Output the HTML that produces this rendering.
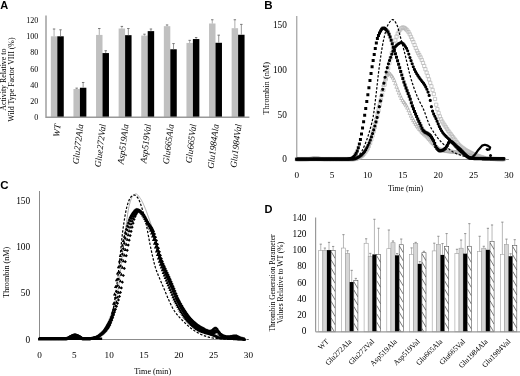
<!DOCTYPE html>
<html><head><meta charset="utf-8"><title>Figure</title>
<style>html,body{margin:0;padding:0;background:#fff;width:520px;height:376px;overflow:hidden}svg{display:block;filter:grayscale(1)}</style>
</head><body><svg width="520" height="376" viewBox="0 0 520 376"><defs><clipPath id="h0"><rect x="331.08" y="250.5" width="4.13" height="81.3"/></clipPath><clipPath id="h1"><rect x="353.78" y="280.58" width="4.13" height="51.22"/></clipPath><clipPath id="h2"><rect x="376.48" y="254.4" width="4.13" height="77.4"/></clipPath><clipPath id="h3"><rect x="399.18" y="244.73" width="4.13" height="87.07"/></clipPath><clipPath id="h4"><rect x="421.88" y="252.7" width="4.13" height="79.1"/></clipPath><clipPath id="h5"><rect x="444.58" y="246.6" width="4.13" height="85.2"/></clipPath><clipPath id="h6"><rect x="467.28" y="246.27" width="4.13" height="85.53"/></clipPath><clipPath id="h7"><rect x="489.98" y="241.56" width="4.13" height="90.24"/></clipPath><clipPath id="h8"><rect x="512.68" y="245.46" width="4.13" height="86.34"/></clipPath></defs><text x="0.2" y="8.6" font-size="11" font-family="'Liberation Sans', sans-serif" text-anchor="start" fill="#000" font-weight="bold">A</text>
<text x="264.3" y="8.7" font-size="11.5" font-family="'Liberation Sans', sans-serif" text-anchor="start" fill="#000" font-weight="bold">B</text>
<text x="0.3" y="189.2" font-size="11.5" font-family="'Liberation Sans', sans-serif" text-anchor="start" fill="#000" font-weight="bold">C</text>
<text x="264.6" y="213.3" font-size="11" font-family="'Liberation Sans', sans-serif" text-anchor="start" fill="#000" font-weight="bold">D</text>
<rect x="50.84" y="36.3" width="6.46" height="81" fill="#c0c0c0" stroke="none" stroke-width="0"/>
<rect x="57.3" y="36.3" width="6.46" height="81" fill="#000" stroke="none" stroke-width="0"/>
<line x1="54.07" y1="36.3" x2="54.07" y2="29.01" stroke="#9a9a9a" stroke-width="0.8"/>
<line x1="52.87" y1="29.01" x2="55.27" y2="29.01" stroke="#777" stroke-width="1.0"/>
<line x1="60.53" y1="36.3" x2="60.53" y2="29.82" stroke="#7a7a7a" stroke-width="0.8"/>
<line x1="59.33" y1="29.82" x2="61.73" y2="29.82" stroke="#777" stroke-width="1.0"/>
<text x="60.7" y="124.5" font-size="9.2" font-family="'Liberation Serif', serif" text-anchor="end" fill="#000" font-style="italic" transform="rotate(-83 60.7 124.5)">WT</text>
<rect x="73.44" y="89.03" width="6.46" height="28.27" fill="#c0c0c0" stroke="none" stroke-width="0"/>
<rect x="79.9" y="87.73" width="6.46" height="29.56" fill="#000" stroke="none" stroke-width="0"/>
<line x1="76.67" y1="89.03" x2="76.67" y2="88.14" stroke="#9a9a9a" stroke-width="0.8"/>
<line x1="75.47" y1="88.14" x2="77.87" y2="88.14" stroke="#777" stroke-width="1.0"/>
<line x1="83.13" y1="87.73" x2="83.13" y2="82.47" stroke="#7a7a7a" stroke-width="0.8"/>
<line x1="81.93" y1="82.47" x2="84.33" y2="82.47" stroke="#777" stroke-width="1.0"/>
<text x="83.3" y="124.5" font-size="9.2" font-family="'Liberation Serif', serif" text-anchor="end" fill="#000" font-style="italic" transform="rotate(-83 83.3 124.5)">Glu272Ala</text>
<rect x="96.04" y="34.92" width="6.46" height="82.38" fill="#c0c0c0" stroke="none" stroke-width="0"/>
<rect x="102.5" y="53.07" width="6.46" height="64.23" fill="#000" stroke="none" stroke-width="0"/>
<line x1="99.27" y1="34.92" x2="99.27" y2="28.52" stroke="#9a9a9a" stroke-width="0.8"/>
<line x1="98.07" y1="28.52" x2="100.47" y2="28.52" stroke="#777" stroke-width="1.0"/>
<line x1="105.73" y1="53.07" x2="105.73" y2="50.72" stroke="#7a7a7a" stroke-width="0.8"/>
<line x1="104.53" y1="50.72" x2="106.93" y2="50.72" stroke="#777" stroke-width="1.0"/>
<text x="105.9" y="124.5" font-size="9.2" font-family="'Liberation Serif', serif" text-anchor="end" fill="#000" font-style="italic" transform="rotate(-83 105.9 124.5)">Glue272Val</text>
<rect x="118.64" y="28.52" width="6.46" height="88.78" fill="#c0c0c0" stroke="none" stroke-width="0"/>
<rect x="125.1" y="35.17" width="6.46" height="82.13" fill="#000" stroke="none" stroke-width="0"/>
<line x1="121.87" y1="28.52" x2="121.87" y2="26.42" stroke="#9a9a9a" stroke-width="0.8"/>
<line x1="120.67" y1="26.42" x2="123.07" y2="26.42" stroke="#777" stroke-width="1.0"/>
<line x1="128.33" y1="35.17" x2="128.33" y2="28.52" stroke="#7a7a7a" stroke-width="0.8"/>
<line x1="127.13" y1="28.52" x2="129.53" y2="28.52" stroke="#777" stroke-width="1.0"/>
<text x="128.5" y="124.5" font-size="9.2" font-family="'Liberation Serif', serif" text-anchor="end" fill="#000" font-style="italic" transform="rotate(-83 128.5 124.5)">Asp519Ala</text>
<rect x="141.24" y="35.57" width="6.46" height="81.73" fill="#c0c0c0" stroke="none" stroke-width="0"/>
<rect x="147.7" y="31.12" width="6.46" height="86.18" fill="#000" stroke="none" stroke-width="0"/>
<line x1="144.47" y1="35.57" x2="144.47" y2="34.19" stroke="#9a9a9a" stroke-width="0.8"/>
<line x1="143.27" y1="34.19" x2="145.67" y2="34.19" stroke="#777" stroke-width="1.0"/>
<line x1="150.93" y1="31.12" x2="150.93" y2="29.01" stroke="#7a7a7a" stroke-width="0.8"/>
<line x1="149.73" y1="29.01" x2="152.13" y2="29.01" stroke="#777" stroke-width="1.0"/>
<text x="151.1" y="124.5" font-size="9.2" font-family="'Liberation Serif', serif" text-anchor="end" fill="#000" font-style="italic" transform="rotate(-83 151.1 124.5)">Asp519Val</text>
<rect x="163.84" y="26.17" width="6.46" height="91.12" fill="#c0c0c0" stroke="none" stroke-width="0"/>
<rect x="170.3" y="49.26" width="6.46" height="68.04" fill="#000" stroke="none" stroke-width="0"/>
<line x1="167.07" y1="26.17" x2="167.07" y2="24.96" stroke="#9a9a9a" stroke-width="0.8"/>
<line x1="165.87" y1="24.96" x2="168.27" y2="24.96" stroke="#777" stroke-width="1.0"/>
<line x1="173.53" y1="49.26" x2="173.53" y2="43.59" stroke="#7a7a7a" stroke-width="0.8"/>
<line x1="172.33" y1="43.59" x2="174.73" y2="43.59" stroke="#777" stroke-width="1.0"/>
<text x="173.7" y="124.5" font-size="9.2" font-family="'Liberation Serif', serif" text-anchor="end" fill="#000" font-style="italic" transform="rotate(-83 173.7 124.5)">Glu665Ala</text>
<rect x="186.44" y="42.94" width="6.46" height="74.36" fill="#c0c0c0" stroke="none" stroke-width="0"/>
<rect x="192.9" y="39.05" width="6.46" height="78.25" fill="#000" stroke="none" stroke-width="0"/>
<line x1="189.67" y1="42.94" x2="189.67" y2="40.35" stroke="#9a9a9a" stroke-width="0.8"/>
<line x1="188.47" y1="40.35" x2="190.87" y2="40.35" stroke="#777" stroke-width="1.0"/>
<line x1="196.13" y1="39.05" x2="196.13" y2="37.51" stroke="#7a7a7a" stroke-width="0.8"/>
<line x1="194.93" y1="37.51" x2="197.33" y2="37.51" stroke="#777" stroke-width="1.0"/>
<text x="196.3" y="124.5" font-size="9.2" font-family="'Liberation Serif', serif" text-anchor="end" fill="#000" font-style="italic" transform="rotate(-83 196.3 124.5)">Glu665Val</text>
<rect x="209.04" y="23.5" width="6.46" height="93.8" fill="#c0c0c0" stroke="none" stroke-width="0"/>
<rect x="215.5" y="42.78" width="6.46" height="74.52" fill="#000" stroke="none" stroke-width="0"/>
<line x1="212.27" y1="23.5" x2="212.27" y2="19.78" stroke="#9a9a9a" stroke-width="0.8"/>
<line x1="211.07" y1="19.78" x2="213.47" y2="19.78" stroke="#777" stroke-width="1.0"/>
<line x1="218.73" y1="42.78" x2="218.73" y2="35.17" stroke="#7a7a7a" stroke-width="0.8"/>
<line x1="217.53" y1="35.17" x2="219.93" y2="35.17" stroke="#777" stroke-width="1.0"/>
<text x="218.9" y="124.5" font-size="9.2" font-family="'Liberation Serif', serif" text-anchor="end" fill="#000" font-style="italic" transform="rotate(-83 218.9 124.5)">Glu1984Ala</text>
<rect x="231.64" y="28.2" width="6.46" height="89.1" fill="#c0c0c0" stroke="none" stroke-width="0"/>
<rect x="238.1" y="34.76" width="6.46" height="82.54" fill="#000" stroke="none" stroke-width="0"/>
<line x1="234.87" y1="28.2" x2="234.87" y2="19.78" stroke="#9a9a9a" stroke-width="0.8"/>
<line x1="233.67" y1="19.78" x2="236.07" y2="19.78" stroke="#777" stroke-width="1.0"/>
<line x1="241.33" y1="34.76" x2="241.33" y2="24.39" stroke="#7a7a7a" stroke-width="0.8"/>
<line x1="240.13" y1="24.39" x2="242.53" y2="24.39" stroke="#777" stroke-width="1.0"/>
<text x="241.5" y="124.5" font-size="9.2" font-family="'Liberation Serif', serif" text-anchor="end" fill="#000" font-style="italic" transform="rotate(-83 241.5 124.5)">Glu1984Val</text>
<line x1="46" y1="15.5" x2="46" y2="117.9" stroke="#999" stroke-width="1.4"/>
<line x1="46" y1="117.3" x2="249.4" y2="117.3" stroke="#999" stroke-width="1.4"/>
<text x="38.2" y="120.1" font-size="8" font-family="'Liberation Serif', serif" text-anchor="end" fill="#000">0</text>
<text x="38.2" y="103.9" font-size="8" font-family="'Liberation Serif', serif" text-anchor="end" fill="#000">20</text>
<text x="38.2" y="87.7" font-size="8" font-family="'Liberation Serif', serif" text-anchor="end" fill="#000">40</text>
<text x="38.2" y="71.5" font-size="8" font-family="'Liberation Serif', serif" text-anchor="end" fill="#000">60</text>
<text x="38.2" y="55.3" font-size="8" font-family="'Liberation Serif', serif" text-anchor="end" fill="#000">80</text>
<text x="38.2" y="39.1" font-size="8" font-family="'Liberation Serif', serif" text-anchor="end" fill="#000">100</text>
<text x="38.2" y="22.9" font-size="8" font-family="'Liberation Serif', serif" text-anchor="end" fill="#000">120</text>
<text x="5.8" y="79.7" font-size="7.9" font-family="'Liberation Serif', serif" text-anchor="middle" fill="#000" transform="rotate(-90 5.8 79.7)">Activity Relative to</text>
<text x="14.5" y="79.6" font-size="7.9" font-family="'Liberation Serif', serif" text-anchor="middle" fill="#000" transform="rotate(-90 14.5 79.6)">Wild Type Factor VIII (%)</text>
<line x1="296.8" y1="16" x2="296.8" y2="159.5" stroke="#8c8c8c" stroke-width="1"/>
<line x1="296.8" y1="159.5" x2="508.9" y2="159.5" stroke="#8c8c8c" stroke-width="1"/>
<text x="286.9" y="162.1" font-size="9.3" font-family="'Liberation Serif', serif" text-anchor="end" fill="#000">0</text>
<text x="286.9" y="117.5" font-size="9.3" font-family="'Liberation Serif', serif" text-anchor="end" fill="#000">50</text>
<text x="286.9" y="72.9" font-size="9.3" font-family="'Liberation Serif', serif" text-anchor="end" fill="#000">100</text>
<text x="286.9" y="28.3" font-size="9.3" font-family="'Liberation Serif', serif" text-anchor="end" fill="#000">150</text>
<text x="296.8" y="177.6" font-size="9.2" font-family="'Liberation Serif', serif" text-anchor="middle" fill="#000">0</text>
<text x="332.15" y="177.6" font-size="9.2" font-family="'Liberation Serif', serif" text-anchor="middle" fill="#000">5</text>
<text x="367.5" y="177.6" font-size="9.2" font-family="'Liberation Serif', serif" text-anchor="middle" fill="#000">10</text>
<text x="402.85" y="177.6" font-size="9.2" font-family="'Liberation Serif', serif" text-anchor="middle" fill="#000">15</text>
<text x="438.2" y="177.6" font-size="9.2" font-family="'Liberation Serif', serif" text-anchor="middle" fill="#000">20</text>
<text x="473.55" y="177.6" font-size="9.2" font-family="'Liberation Serif', serif" text-anchor="middle" fill="#000">25</text>
<text x="508.9" y="177.6" font-size="9.2" font-family="'Liberation Serif', serif" text-anchor="middle" fill="#000">30</text>
<text x="405.5" y="190.7" font-size="7.7" font-family="'Liberation Serif', serif" text-anchor="middle" fill="#000">Time (min)</text>
<text x="269.3" y="88.3" font-size="8.4" font-family="'Liberation Serif', serif" text-anchor="middle" fill="#000" transform="rotate(-90 269.3 88.3)">Thrombin (nM)</text>
<path d="M295.2 157.45h3.2v3.2h-3.2zM296.4 157.45h3.2v3.2h-3.2zM297.6 157.45h3.2v3.2h-3.2zM298.81 157.45h3.2v3.2h-3.2zM300.01 157.45h3.2v3.2h-3.2zM301.21 157.45h3.2v3.2h-3.2zM302.41 157.45h3.2v3.2h-3.2zM303.61 157.45h3.2v3.2h-3.2zM304.82 157.45h3.2v3.2h-3.2zM306.02 157.45h3.2v3.2h-3.2zM307.22 157.45h3.2v3.2h-3.2zM308.42 157.45h3.2v3.2h-3.2zM309.62 157.45h3.2v3.2h-3.2zM310.82 157.45h3.2v3.2h-3.2zM312.03 157.45h3.2v3.2h-3.2zM313.23 157.45h3.2v3.2h-3.2zM314.43 157.45h3.2v3.2h-3.2zM315.63 157.45h3.2v3.2h-3.2zM316.83 157.45h3.2v3.2h-3.2zM318.04 157.45h3.2v3.2h-3.2zM319.24 157.45h3.2v3.2h-3.2zM320.44 157.45h3.2v3.2h-3.2zM321.64 157.45h3.2v3.2h-3.2zM322.84 157.45h3.2v3.2h-3.2zM324.05 157.45h3.2v3.2h-3.2zM325.25 157.45h3.2v3.2h-3.2zM326.45 157.45h3.2v3.2h-3.2zM327.65 157.45h3.2v3.2h-3.2zM328.85 157.45h3.2v3.2h-3.2zM330.06 157.45h3.2v3.2h-3.2zM331.26 157.45h3.2v3.2h-3.2zM332.46 157.45h3.2v3.2h-3.2zM333.66 157.45h3.2v3.2h-3.2zM334.86 157.45h3.2v3.2h-3.2zM336.06 157.45h3.2v3.2h-3.2zM337.27 157.45h3.2v3.2h-3.2zM338.47 157.45h3.2v3.2h-3.2zM339.67 157.45h3.2v3.2h-3.2zM340.87 157.45h3.2v3.2h-3.2zM342.07 157.45h3.2v3.2h-3.2zM343.28 157.45h3.2v3.2h-3.2zM344.48 157.45h3.2v3.2h-3.2zM345.68 157.45h3.2v3.2h-3.2zM346.88 157.45h3.2v3.2h-3.2zM348.08 157.45h3.2v3.2h-3.2zM349.29 157.45h3.2v3.2h-3.2zM350.49 157.45h3.2v3.2h-3.2zM351.69 157.45h3.2v3.2h-3.2zM352.89 157.38h3.2v3.2h-3.2zM354.09 157.14h3.2v3.2h-3.2zM355.29 156.78h3.2v3.2h-3.2zM356.5 156.31h3.2v3.2h-3.2zM357.7 155.77h3.2v3.2h-3.2zM358.9 155.19h3.2v3.2h-3.2zM360.1 154.42h3.2v3.2h-3.2zM361.3 153.36h3.2v3.2h-3.2zM362.51 152.05h3.2v3.2h-3.2zM363.71 150.5h3.2v3.2h-3.2zM364.91 148.76h3.2v3.2h-3.2zM366.11 146.84h3.2v3.2h-3.2zM367.31 144.39h3.2v3.2h-3.2zM368.52 141.33h3.2v3.2h-3.2zM369.72 137.78h3.2v3.2h-3.2zM370.92 133.86h3.2v3.2h-3.2zM372.12 129.7h3.2v3.2h-3.2zM373.32 125.37h3.2v3.2h-3.2zM374.53 120.3h3.2v3.2h-3.2zM375.73 114.65h3.2v3.2h-3.2zM376.93 108.89h3.2v3.2h-3.2zM378.13 103.46h3.2v3.2h-3.2zM379.33 98.39h3.2v3.2h-3.2zM380.53 93.41h3.2v3.2h-3.2zM381.74 88.37h3.2v3.2h-3.2zM382.94 83.09h3.2v3.2h-3.2zM384.14 77.59h3.2v3.2h-3.2zM385.34 72.05h3.2v3.2h-3.2zM386.54 66.67h3.2v3.2h-3.2zM387.75 61.55h3.2v3.2h-3.2zM388.95 56.47h3.2v3.2h-3.2zM390.15 51.52h3.2v3.2h-3.2zM391.35 46.85h3.2v3.2h-3.2zM392.55 42.63h3.2v3.2h-3.2zM393.76 38.75h3.2v3.2h-3.2zM394.96 35.04h3.2v3.2h-3.2zM396.16 31.94h3.2v3.2h-3.2zM397.36 29.81h3.2v3.2h-3.2zM398.56 28.04h3.2v3.2h-3.2zM399.77 26.63h3.2v3.2h-3.2zM400.97 25.91h3.2v3.2h-3.2zM402.17 26.06h3.2v3.2h-3.2zM403.37 26.73h3.2v3.2h-3.2zM404.57 27.72h3.2v3.2h-3.2zM405.77 28.85h3.2v3.2h-3.2zM406.98 30.52h3.2v3.2h-3.2zM408.18 32.75h3.2v3.2h-3.2zM409.38 35.26h3.2v3.2h-3.2zM410.58 37.77h3.2v3.2h-3.2zM411.78 40.48h3.2v3.2h-3.2zM412.99 43.42h3.2v3.2h-3.2zM414.19 46.37h3.2v3.2h-3.2zM415.39 49.08h3.2v3.2h-3.2zM416.59 51.4h3.2v3.2h-3.2zM417.79 53.55h3.2v3.2h-3.2zM419 55.78h3.2v3.2h-3.2zM420.2 58.37h3.2v3.2h-3.2zM421.4 61.25h3.2v3.2h-3.2zM422.6 64.35h3.2v3.2h-3.2zM423.8 67.62h3.2v3.2h-3.2zM425.01 71h3.2v3.2h-3.2zM426.21 74.42h3.2v3.2h-3.2zM427.41 77.83h3.2v3.2h-3.2zM428.61 81.21h3.2v3.2h-3.2zM429.81 84.68h3.2v3.2h-3.2zM431.01 88.39h3.2v3.2h-3.2zM432.22 92.48h3.2v3.2h-3.2zM433.42 97.4h3.2v3.2h-3.2zM434.62 103.1h3.2v3.2h-3.2zM435.82 107.5h3.2v3.2h-3.2zM437.02 111.43h3.2v3.2h-3.2zM438.23 114.84h3.2v3.2h-3.2zM439.43 117.62h3.2v3.2h-3.2zM440.63 119.92h3.2v3.2h-3.2zM441.83 121.91h3.2v3.2h-3.2zM443.03 123.74h3.2v3.2h-3.2zM444.24 125.57h3.2v3.2h-3.2zM445.44 127.41h3.2v3.2h-3.2zM446.64 129.18h3.2v3.2h-3.2zM447.84 130.86h3.2v3.2h-3.2zM449.04 132.47h3.2v3.2h-3.2zM450.25 134.04h3.2v3.2h-3.2zM451.45 135.58h3.2v3.2h-3.2zM452.65 137.14h3.2v3.2h-3.2zM453.85 138.76h3.2v3.2h-3.2zM455.05 140.39h3.2v3.2h-3.2zM456.25 141.92h3.2v3.2h-3.2zM457.46 143.28h3.2v3.2h-3.2zM458.66 144.41h3.2v3.2h-3.2zM459.86 145.45h3.2v3.2h-3.2zM461.06 146.4h3.2v3.2h-3.2zM462.26 147.28h3.2v3.2h-3.2zM463.47 148.09h3.2v3.2h-3.2zM464.67 148.85h3.2v3.2h-3.2zM465.87 149.56h3.2v3.2h-3.2zM467.07 150.23h3.2v3.2h-3.2zM468.27 150.85h3.2v3.2h-3.2zM469.48 151.43h3.2v3.2h-3.2zM470.68 151.99h3.2v3.2h-3.2zM471.88 152.52h3.2v3.2h-3.2zM473.08 153.03h3.2v3.2h-3.2zM474.28 153.53h3.2v3.2h-3.2zM475.49 154h3.2v3.2h-3.2zM476.69 154.45h3.2v3.2h-3.2zM477.89 154.86h3.2v3.2h-3.2zM479.09 155.25h3.2v3.2h-3.2zM480.29 155.63h3.2v3.2h-3.2zM481.49 156.01h3.2v3.2h-3.2zM482.7 156.38h3.2v3.2h-3.2zM483.9 156.68h3.2v3.2h-3.2zM485.1 156.91h3.2v3.2h-3.2zM486.3 157.02h3.2v3.2h-3.2zM487.5 157.08h3.2v3.2h-3.2zM488.71 157.14h3.2v3.2h-3.2zM489.91 157.19h3.2v3.2h-3.2zM491.11 157.24h3.2v3.2h-3.2zM492.31 157.29h3.2v3.2h-3.2zM493.51 157.32h3.2v3.2h-3.2zM494.72 157.36h3.2v3.2h-3.2zM495.92 157.38h3.2v3.2h-3.2zM497.12 157.41h3.2v3.2h-3.2zM498.32 157.43h3.2v3.2h-3.2zM499.52 157.44h3.2v3.2h-3.2zM500.72 157.45h3.2v3.2h-3.2zM501.93 157.45h3.2v3.2h-3.2z" fill="none" stroke="#b8b8b8" stroke-width="0.75"/>
<path d="M296.8 157.35l1.7 3.4h-3.4zM298 157.35l1.7 3.4h-3.4zM299.2 157.35l1.7 3.4h-3.4zM300.41 157.34l1.7 3.4h-3.4zM301.61 157.34l1.7 3.4h-3.4zM302.81 157.33l1.7 3.4h-3.4zM304.01 157.31l1.7 3.4h-3.4zM305.21 157.3l1.7 3.4h-3.4zM306.42 157.28l1.7 3.4h-3.4zM307.62 157.26l1.7 3.4h-3.4zM308.82 157.14l1.7 3.4h-3.4zM310.02 156.92l1.7 3.4h-3.4zM311.22 156.64l1.7 3.4h-3.4zM312.42 156.37l1.7 3.4h-3.4zM313.63 156.14l1.7 3.4h-3.4zM314.83 156.02l1.7 3.4h-3.4zM316.03 156.05l1.7 3.4h-3.4zM317.23 156.2l1.7 3.4h-3.4zM318.43 156.43l1.7 3.4h-3.4zM319.64 156.69l1.7 3.4h-3.4zM320.84 156.94l1.7 3.4h-3.4zM322.04 157.14l1.7 3.4h-3.4zM323.24 157.26l1.7 3.4h-3.4zM324.44 157.26l1.7 3.4h-3.4zM325.65 157.26l1.7 3.4h-3.4zM326.85 157.26l1.7 3.4h-3.4zM328.05 157.26l1.7 3.4h-3.4zM329.25 157.26l1.7 3.4h-3.4zM330.45 157.26l1.7 3.4h-3.4zM331.66 157.26l1.7 3.4h-3.4zM332.86 157.26l1.7 3.4h-3.4zM334.06 157.26l1.7 3.4h-3.4zM335.26 157.26l1.7 3.4h-3.4zM336.46 157.26l1.7 3.4h-3.4zM337.66 157.26l1.7 3.4h-3.4zM338.87 157.26l1.7 3.4h-3.4zM340.07 157.26l1.7 3.4h-3.4zM341.27 157.26l1.7 3.4h-3.4zM342.47 157.26l1.7 3.4h-3.4zM343.67 157.26l1.7 3.4h-3.4zM344.88 157.26l1.7 3.4h-3.4zM346.08 157.26l1.7 3.4h-3.4zM347.28 157.26l1.7 3.4h-3.4zM348.48 157.26l1.7 3.4h-3.4zM349.68 157.26l1.7 3.4h-3.4zM350.89 157.26l1.7 3.4h-3.4zM352.09 157.26l1.7 3.4h-3.4zM353.29 157.26l1.7 3.4h-3.4zM354.49 157.16l1.7 3.4h-3.4zM355.69 156.83l1.7 3.4h-3.4zM356.89 156.33l1.7 3.4h-3.4zM358.1 155.69l1.7 3.4h-3.4zM359.3 154.96l1.7 3.4h-3.4zM360.5 154.19l1.7 3.4h-3.4zM361.7 153.19l1.7 3.4h-3.4zM362.9 151.87l1.7 3.4h-3.4zM364.11 150.25l1.7 3.4h-3.4zM365.31 148.37l1.7 3.4h-3.4zM366.51 146.28l1.7 3.4h-3.4zM367.71 144l1.7 3.4h-3.4zM368.91 141.2l1.7 3.4h-3.4zM370.12 137.81l1.7 3.4h-3.4zM371.32 133.93l1.7 3.4h-3.4zM372.52 129.72l1.7 3.4h-3.4zM373.72 125.3l1.7 3.4h-3.4zM374.92 120.75l1.7 3.4h-3.4zM376.13 115.6l1.7 3.4h-3.4zM377.33 109.98l1.7 3.4h-3.4zM378.53 104.28l1.7 3.4h-3.4zM379.73 98.89l1.7 3.4h-3.4zM380.93 93.38l1.7 3.4h-3.4zM382.13 87.85l1.7 3.4h-3.4zM383.34 82.9l1.7 3.4h-3.4zM384.54 79.12l1.7 3.4h-3.4zM385.74 75.96l1.7 3.4h-3.4zM386.94 73.19l1.7 3.4h-3.4zM388.14 71.5l1.7 3.4h-3.4zM389.35 71.43l1.7 3.4h-3.4zM390.55 72.39l1.7 3.4h-3.4zM391.75 73.95l1.7 3.4h-3.4zM392.95 75.74l1.7 3.4h-3.4zM394.15 78.16l1.7 3.4h-3.4zM395.36 81.41l1.7 3.4h-3.4zM396.56 84.81l1.7 3.4h-3.4zM397.76 87.8l1.7 3.4h-3.4zM398.96 90.71l1.7 3.4h-3.4zM400.16 93.54l1.7 3.4h-3.4zM401.37 96.12l1.7 3.4h-3.4zM402.57 98.31l1.7 3.4h-3.4zM403.77 100.07l1.7 3.4h-3.4zM404.97 101.69l1.7 3.4h-3.4zM406.17 103.48l1.7 3.4h-3.4zM407.37 105.71l1.7 3.4h-3.4zM408.58 108.32l1.7 3.4h-3.4zM409.78 111.08l1.7 3.4h-3.4zM410.98 113.76l1.7 3.4h-3.4zM412.18 116.13l1.7 3.4h-3.4zM413.38 118.26l1.7 3.4h-3.4zM414.59 120.26l1.7 3.4h-3.4zM415.79 122.14l1.7 3.4h-3.4zM416.99 123.9l1.7 3.4h-3.4zM418.19 125.55l1.7 3.4h-3.4zM419.39 127.09l1.7 3.4h-3.4zM420.6 128.53l1.7 3.4h-3.4zM421.8 129.87l1.7 3.4h-3.4zM423 131.09l1.7 3.4h-3.4zM424.2 132.24l1.7 3.4h-3.4zM425.4 133.36l1.7 3.4h-3.4zM426.61 134.5l1.7 3.4h-3.4zM427.81 135.72l1.7 3.4h-3.4zM429.01 137.05l1.7 3.4h-3.4zM430.21 138.44l1.7 3.4h-3.4zM431.41 139.81l1.7 3.4h-3.4zM432.61 141.11l1.7 3.4h-3.4zM433.82 142.29l1.7 3.4h-3.4zM435.02 143.47l1.7 3.4h-3.4zM436.22 144.63l1.7 3.4h-3.4zM437.42 145.67l1.7 3.4h-3.4zM438.62 146.55l1.7 3.4h-3.4zM439.83 147.19l1.7 3.4h-3.4zM441.03 147.69l1.7 3.4h-3.4zM442.23 148.11l1.7 3.4h-3.4zM443.43 148.47l1.7 3.4h-3.4zM444.63 148.75l1.7 3.4h-3.4zM445.84 148.98l1.7 3.4h-3.4zM447.04 149.16l1.7 3.4h-3.4zM448.24 149.31l1.7 3.4h-3.4zM449.44 149.45l1.7 3.4h-3.4zM450.64 149.58l1.7 3.4h-3.4zM451.85 149.71l1.7 3.4h-3.4zM453.05 149.86l1.7 3.4h-3.4zM454.25 150l1.7 3.4h-3.4zM455.45 150.13l1.7 3.4h-3.4zM456.65 150.27l1.7 3.4h-3.4zM457.85 150.43l1.7 3.4h-3.4zM459.06 150.61l1.7 3.4h-3.4zM460.26 150.82l1.7 3.4h-3.4zM461.46 151.09l1.7 3.4h-3.4zM462.66 151.4l1.7 3.4h-3.4zM463.86 151.74l1.7 3.4h-3.4zM465.07 152.07l1.7 3.4h-3.4zM466.27 152.39l1.7 3.4h-3.4zM467.47 152.7l1.7 3.4h-3.4zM468.67 153l1.7 3.4h-3.4zM469.87 153.3l1.7 3.4h-3.4zM471.08 153.61l1.7 3.4h-3.4zM472.28 153.91l1.7 3.4h-3.4zM473.48 154.21l1.7 3.4h-3.4zM474.68 154.53l1.7 3.4h-3.4zM475.88 154.86l1.7 3.4h-3.4zM477.09 155.2l1.7 3.4h-3.4zM478.29 155.52l1.7 3.4h-3.4zM479.49 155.8l1.7 3.4h-3.4zM480.69 156.03l1.7 3.4h-3.4zM481.89 156.23l1.7 3.4h-3.4zM483.09 156.42l1.7 3.4h-3.4zM484.3 156.59l1.7 3.4h-3.4zM485.5 156.73l1.7 3.4h-3.4zM486.7 156.84l1.7 3.4h-3.4zM487.9 156.92l1.7 3.4h-3.4zM489.1 156.98l1.7 3.4h-3.4zM490.31 157.03l1.7 3.4h-3.4zM491.51 157.08l1.7 3.4h-3.4zM492.71 157.13l1.7 3.4h-3.4zM493.91 157.17l1.7 3.4h-3.4zM495.11 157.21l1.7 3.4h-3.4zM496.32 157.24l1.7 3.4h-3.4zM497.52 157.28l1.7 3.4h-3.4zM498.72 157.3l1.7 3.4h-3.4zM499.92 157.32l1.7 3.4h-3.4zM501.12 157.34l1.7 3.4h-3.4zM502.32 157.35l1.7 3.4h-3.4zM503.53 157.35l1.7 3.4h-3.4z" fill="none" stroke="#b0b0b0" stroke-width="0.8"/>
<path d="M296.8 159.23 L297.15 159.23 L297.51 159.23 L297.86 159.23 L298.21 159.23 L298.57 159.23 L298.92 159.23 L299.27 159.23 L299.63 159.23 L299.98 159.23 L300.34 159.23 L300.69 159.23 L301.04 159.23 L301.4 159.23 L301.75 159.23 L302.1 159.23 L302.46 159.23 L302.81 159.23 L303.16 159.23 L303.52 159.23 L303.87 159.23 L304.22 159.23 L304.58 159.23 L304.93 159.23 L305.28 159.23 L305.64 159.23 L305.99 159.23 L306.34 159.23 L306.7 159.23 L307.05 159.23 L307.41 159.23 L307.76 159.23 L308.11 159.23 L308.47 159.23 L308.82 159.23 L309.17 159.23 L309.53 159.23 L309.88 159.23 L310.23 159.23 L310.59 159.23 L310.94 159.23 L311.29 159.23 L311.65 159.23 L312 159.23 L312.35 159.23 L312.71 159.23 L313.06 159.23 L313.41 159.23 L313.77 159.23 L314.12 159.23 L314.48 159.23 L314.83 159.23 L315.18 159.23 L315.54 159.23 L315.89 159.23 L316.24 159.23 L316.6 159.23 L316.95 159.23 L317.3 159.22 L317.66 159.22 L318.01 159.22 L318.36 159.22 L318.72 159.22 L319.07 159.22 L319.42 159.22 L319.78 159.22 L320.13 159.22 L320.48 159.22 L320.84 159.22 L321.19 159.22 L321.55 159.22 L321.9 159.22 L322.25 159.22 L322.61 159.22 L322.96 159.22 L323.31 159.22 L323.67 159.22 L324.02 159.22 L324.37 159.22 L324.73 159.22 L325.08 159.22 L325.43 159.21 L325.79 159.21 L326.14 159.21 L326.49 159.21 L326.85 159.21 L327.2 159.21 L327.55 159.21 L327.91 159.21 L328.26 159.21 L328.62 159.21 L328.97 159.21 L329.32 159.21 L329.68 159.21 L330.03 159.21 L330.38 159.21 L330.74 159.21 L331.09 159.2 L331.44 159.2 L331.8 159.2 L332.15 159.2 L332.5 159.2 L332.86 159.2 L333.21 159.2 L333.56 159.2 L333.92 159.2 L334.27 159.2 L334.62 159.2 L334.98 159.2 L335.33 159.19 L335.69 159.19 L336.04 159.19 L336.39 159.19 L336.75 159.19 L337.1 159.19 L337.45 159.19 L337.81 159.19 L338.16 159.19 L338.51 159.19 L338.87 159.18 L339.22 159.18 L339.57 159.18 L339.93 159.18 L340.28 159.18 L340.63 159.18 L340.99 159.18 L341.34 159.18 L341.69 159.18 L342.05 159.17 L342.4 159.17 L342.75 159.17 L343.11 159.17 L343.46 159.17 L343.82 159.17 L344.17 159.17 L344.52 159.17 L344.88 159.16 L345.23 159.16 L345.58 159.16 L345.94 159.16 L346.29 159.16 L346.64 159.16 L347 159.16 L347.35 159.15 L347.7 159.15 L348.06 159.15 L348.41 159.15 L348.76 159.15 L349.12 159.15 L349.47 159.14 L349.83 159.14 L350.18 159.13 L350.53 159.11 L350.89 159.07 L351.24 159.02 L351.59 158.96 L351.95 158.89 L352.3 158.8 L352.65 158.71 L353.01 158.61 L353.36 158.5 L353.71 158.38 L354.07 158.26 L354.42 158.13 L354.77 157.99 L355.13 157.86 L355.48 157.72 L355.83 157.56 L356.19 157.37 L356.54 157.15 L356.89 156.9 L357.25 156.63 L357.6 156.33 L357.96 156.01 L358.31 155.66 L358.66 155.3 L359.02 154.92 L359.37 154.52 L359.72 154.11 L360.08 153.69 L360.43 153.26 L360.78 152.79 L361.14 152.27 L361.49 151.71 L361.84 151.1 L362.2 150.46 L362.55 149.77 L362.9 149.06 L363.26 148.31 L363.61 147.54 L363.97 146.75 L364.32 145.94 L364.67 145.12 L365.03 144.28 L365.38 143.44 L365.73 142.58 L366.09 141.69 L366.44 140.75 L366.79 139.78 L367.15 138.78 L367.5 137.75 L367.85 136.69 L368.21 135.6 L368.56 134.47 L368.91 133.33 L369.27 132.15 L369.62 130.96 L369.97 129.75 L370.33 128.53 L370.68 127.28 L371.04 126 L371.39 124.66 L371.74 123.26 L372.1 121.77 L372.45 120.19 L372.8 118.5 L373.16 116.68 L373.51 114.63 L373.86 112.28 L374.22 109.7 L374.57 106.93 L374.92 104.05 L375.28 101.11 L375.63 98.16 L375.98 95.28 L376.34 92.36 L376.69 89.3 L377.04 86.15 L377.4 82.95 L377.75 79.73 L378.11 76.55 L378.46 73.44 L378.81 70.44 L379.17 67.59 L379.52 64.95 L379.87 62.43 L380.23 59.94 L380.58 57.49 L380.93 55.1 L381.29 52.77 L381.64 50.51 L381.99 48.34 L382.35 46.26 L382.7 44.28 L383.05 42.42 L383.41 40.68 L383.76 39.08 L384.11 37.56 L384.47 36.06 L384.82 34.6 L385.18 33.18 L385.53 31.83 L385.88 30.54 L386.24 29.32 L386.59 28.2 L386.94 27.18 L387.3 26.26 L387.65 25.47 L388 24.81 L388.36 24.22 L388.71 23.63 L389.06 23.06 L389.42 22.52 L389.77 22 L390.12 21.51 L390.48 21.07 L390.83 20.67 L391.18 20.33 L391.54 20.05 L391.89 19.84 L392.25 19.7 L392.6 19.64 L392.95 19.67 L393.31 19.8 L393.66 20.03 L394.01 20.34 L394.37 20.72 L394.72 21.16 L395.07 21.65 L395.43 22.19 L395.78 22.75 L396.13 23.33 L396.49 23.92 L396.84 24.6 L397.19 25.44 L397.55 26.43 L397.9 27.54 L398.25 28.76 L398.61 30.05 L398.96 31.39 L399.31 32.77 L399.67 34.16 L400.02 35.55 L400.38 36.89 L400.73 38.19 L401.08 39.46 L401.44 40.74 L401.79 42.04 L402.14 43.35 L402.5 44.68 L402.85 46.02 L403.2 47.37 L403.56 48.73 L403.91 50.1 L404.26 51.48 L404.62 52.86 L404.97 54.24 L405.32 55.65 L405.68 57.1 L406.03 58.58 L406.38 60.09 L406.74 61.61 L407.09 63.14 L407.45 64.68 L407.8 66.21 L408.15 67.73 L408.51 69.23 L408.86 70.7 L409.21 72.14 L409.57 73.54 L409.92 74.9 L410.27 76.2 L410.63 77.44 L410.98 78.63 L411.33 79.8 L411.69 80.96 L412.04 82.09 L412.39 83.2 L412.75 84.29 L413.1 85.37 L413.46 86.42 L413.81 87.45 L414.16 88.46 L414.52 89.46 L414.87 90.43 L415.22 91.39 L415.58 92.33 L415.93 93.25 L416.28 94.15 L416.64 95.03 L416.99 95.9 L417.34 96.74 L417.7 97.55 L418.05 98.33 L418.4 99.09 L418.76 99.82 L419.11 100.54 L419.46 101.24 L419.82 101.94 L420.17 102.62 L420.53 103.3 L420.88 103.98 L421.23 104.67 L421.59 105.36 L421.94 106.06 L422.29 106.77 L422.65 107.5 L423 108.25 L423.35 109.03 L423.71 109.83 L424.06 110.67 L424.41 111.55 L424.77 112.48 L425.12 113.44 L425.47 114.42 L425.83 115.42 L426.18 116.43 L426.53 117.44 L426.89 118.45 L427.24 119.45 L427.6 120.43 L427.95 121.39 L428.3 122.31 L428.66 123.19 L429.01 124.03 L429.36 124.81 L429.72 125.53 L430.07 126.22 L430.42 126.88 L430.78 127.52 L431.13 128.14 L431.48 128.74 L431.84 129.33 L432.19 129.9 L432.54 130.45 L432.9 131 L433.25 131.54 L433.6 132.07 L433.96 132.59 L434.31 133.11 L434.67 133.63 L435.02 134.15 L435.37 134.67 L435.73 135.17 L436.08 135.68 L436.43 136.18 L436.79 136.67 L437.14 137.15 L437.49 137.62 L437.85 138.08 L438.2 138.54 L438.55 138.98 L438.91 139.41 L439.26 139.83 L439.61 140.23 L439.97 140.63 L440.32 141.01 L440.67 141.39 L441.03 141.77 L441.38 142.13 L441.74 142.49 L442.09 142.84 L442.44 143.19 L442.8 143.53 L443.15 143.87 L443.5 144.2 L443.86 144.53 L444.21 144.85 L444.56 145.17 L444.92 145.48 L445.27 145.8 L445.62 146.1 L445.98 146.41 L446.33 146.71 L446.68 147.01 L447.04 147.31 L447.39 147.61 L447.74 147.92 L448.1 148.22 L448.45 148.52 L448.81 148.82 L449.16 149.11 L449.51 149.4 L449.87 149.69 L450.22 149.98 L450.57 150.25 L450.93 150.52 L451.28 150.79 L451.63 151.04 L451.99 151.29 L452.34 151.53 L452.69 151.75 L453.05 151.97 L453.4 152.17 L453.75 152.36 L454.11 152.55 L454.46 152.72 L454.81 152.89 L455.17 153.06 L455.52 153.22 L455.88 153.38 L456.23 153.54 L456.58 153.69 L456.94 153.84 L457.29 153.98 L457.64 154.12 L458 154.26 L458.35 154.39 L458.7 154.52 L459.06 154.65 L459.41 154.78 L459.76 154.9 L460.12 155.02 L460.47 155.14 L460.82 155.26 L461.18 155.38 L461.53 155.49 L461.88 155.6 L462.24 155.71 L462.59 155.82 L462.95 155.93 L463.3 156.04 L463.65 156.15 L464.01 156.27 L464.36 156.38 L464.71 156.5 L465.07 156.62 L465.42 156.73 L465.77 156.85 L466.13 156.97 L466.48 157.08 L466.83 157.2 L467.19 157.31 L467.54 157.42 L467.89 157.53 L468.25 157.63 L468.6 157.74 L468.95 157.84 L469.31 157.93 L469.66 158.02 L470.01 158.1 L470.37 158.18 L470.72 158.26 L471.08 158.33 L471.43 158.39 L471.78 158.45 L472.14 158.49 L472.49 158.53 L472.84 158.57 L473.2 158.59 L473.55 158.61 L473.9 158.62 L474.26 158.63 L474.61 158.64 L474.96 158.65 L475.32 158.66 L475.67 158.67 L476.02 158.68 L476.38 158.69 L476.73 158.7 L477.09 158.71 L477.44 158.72 L477.79 158.73 L478.15 158.74 L478.5 158.75 L478.85 158.76 L479.21 158.77 L479.56 158.78 L479.91 158.79 L480.27 158.8 L480.62 158.8 L480.97 158.81 L481.33 158.82 L481.68 158.83 L482.03 158.84 L482.39 158.84 L482.74 158.85 L483.09 158.86 L483.45 158.86 L483.8 158.87 L484.16 158.88 L484.51 158.89 L484.86 158.89 L485.22 158.9 L485.57 158.9 L485.92 158.91 L486.28 158.92 L486.63 158.92 L486.98 158.93 L487.34 158.93 L487.69 158.94 L488.04 158.94 L488.4 158.95 L488.75 158.95 L489.1 158.96 L489.46 158.96 L489.81 158.97 L490.16 158.97 L490.52 158.98 L490.87 158.98 L491.23 158.99 L491.58 158.99 L491.93 158.99 L492.29 159 L492.64 159 L492.99 159 L493.35 159.01 L493.7 159.01 L494.05 159.01 L494.41 159.02 L494.76 159.02 L495.11 159.02 L495.47 159.02 L495.82 159.03 L496.17 159.03 L496.53 159.03 L496.88 159.03 L497.23 159.04 L497.59 159.04 L497.94 159.04 L498.3 159.04 L498.65 159.04 L499 159.04 L499.36 159.05 L499.71 159.05 L500.06 159.05 L500.42 159.05 L500.77 159.05 L501.12 159.05 L501.48 159.05 L501.83 159.05 L502.18 159.05 L502.54 159.05 L502.89 159.05 L503.24 159.05 L503.6 159.05 L503.95 159.05" fill="none" stroke="#000" stroke-width="1.2" stroke-dasharray="2.4 1.6"/>
<path d="M295.3 157.73h3v3h-3zM296.36 157.73h3v3h-3zM297.42 157.73h3v3h-3zM298.48 157.73h3v3h-3zM299.54 157.73h3v3h-3zM300.6 157.73h3v3h-3zM301.66 157.73h3v3h-3zM302.72 157.73h3v3h-3zM303.78 157.73h3v3h-3zM304.84 157.73h3v3h-3zM305.91 157.73h3v3h-3zM306.97 157.73h3v3h-3zM308.03 157.73h3v3h-3zM309.09 157.73h3v3h-3zM310.15 157.73h3v3h-3zM311.21 157.73h3v3h-3zM312.27 157.73h3v3h-3zM313.33 157.73h3v3h-3zM314.39 157.73h3v3h-3zM315.45 157.73h3v3h-3zM316.51 157.73h3v3h-3zM317.57 157.73h3v3h-3zM318.63 157.73h3v3h-3zM319.69 157.73h3v3h-3zM320.75 157.73h3v3h-3zM321.81 157.73h3v3h-3zM322.87 157.73h3v3h-3zM323.93 157.73h3v3h-3zM324.99 157.73h3v3h-3zM326.05 157.73h3v3h-3zM327.12 157.73h3v3h-3zM328.18 157.73h3v3h-3zM329.24 157.73h3v3h-3zM330.3 157.73h3v3h-3zM331.36 157.73h3v3h-3zM332.42 157.73h3v3h-3zM333.48 157.73h3v3h-3zM334.54 157.73h3v3h-3zM335.6 157.73h3v3h-3zM336.66 157.73h3v3h-3zM337.72 157.73h3v3h-3zM338.78 157.73h3v3h-3zM339.84 157.73h3v3h-3zM340.9 157.73h3v3h-3zM341.96 157.73h3v3h-3zM343.02 157.73h3v3h-3zM344.08 157.73h3v3h-3zM345.14 157.73h3v3h-3zM346.2 157.65h3v3h-3zM347.26 157.5h3v3h-3zM348.33 157.28h3v3h-3zM349.39 157h3v3h-3zM350.45 156.66h3v3h-3zM351.51 156.03h3v3h-3zM352.57 154.93h3v3h-3zM353.63 153.46h3v3h-3zM354.69 151.76h3v3h-3zM355.75 149.43h3v3h-3zM356.81 146.24h3v3h-3zM357.87 142.47h3v3h-3zM358.93 137.99h3v3h-3zM359.99 132.46h3v3h-3zM361.05 126.4h3v3h-3zM362.11 120.27h3v3h-3zM363.17 113.8h3v3h-3zM364.23 107.01h3v3h-3zM365.29 100.11h3v3h-3zM366.35 93.28h3v3h-3zM367.41 86.24h3v3h-3zM368.47 79.06h3v3h-3zM369.54 71.97h3v3h-3zM370.6 65.21h3v3h-3zM371.66 58.99h3v3h-3zM372.72 52.95h3v3h-3zM373.78 46.93h3v3h-3zM374.84 41.45h3v3h-3zM375.9 37.02h3v3h-3zM376.96 34.05h3v3h-3zM378.02 31.58h3v3h-3zM379.08 29.39h3v3h-3zM380.14 27.68h3v3h-3zM381.2 26.64h3v3h-3zM382.26 26.47h3v3h-3zM383.32 26.98h3v3h-3zM384.38 27.94h3v3h-3zM385.44 29.13h3v3h-3zM386.5 30.59h3v3h-3zM387.56 32.8h3v3h-3zM388.62 35.62h3v3h-3zM389.68 38.84h3v3h-3zM390.75 42.26h3v3h-3zM391.81 45.67h3v3h-3zM392.87 48.9h3v3h-3zM393.93 52.23h3v3h-3zM394.99 55.7h3v3h-3zM396.05 59.22h3v3h-3zM397.11 62.73h3v3h-3zM398.17 66.28h3v3h-3zM399.23 69.91h3v3h-3zM400.29 73.54h3v3h-3zM401.35 77.07h3v3h-3zM402.41 80.43h3v3h-3zM403.47 83.54h3v3h-3zM404.53 86.43h3v3h-3zM405.59 89.2h3v3h-3zM406.65 91.95h3v3h-3zM407.71 94.78h3v3h-3zM408.77 97.79h3v3h-3zM409.83 101.17h3v3h-3zM410.89 104.43h3v3h-3zM411.96 107.31h3v3h-3zM413.02 110h3v3h-3zM414.08 112.56h3v3h-3zM415.14 115.05h3v3h-3zM416.2 117.43h3v3h-3zM417.26 119.73h3v3h-3zM418.32 121.97h3v3h-3zM419.38 124.35h3v3h-3zM420.44 126.7h3v3h-3zM421.5 128.64h3v3h-3zM422.56 129.86h3v3h-3zM423.62 130.66h3v3h-3zM424.68 131.27h3v3h-3zM425.74 131.8h3v3h-3zM426.8 132.4h3v3h-3zM427.86 133.19h3v3h-3zM428.92 134.29h3v3h-3zM429.98 135.72h3v3h-3zM431.04 137.43h3v3h-3zM432.1 139.36h3v3h-3zM433.17 142.1h3v3h-3zM434.23 145.08h3v3h-3zM435.29 146.78h3v3h-3zM436.35 148.03h3v3h-3zM437.41 148.97h3v3h-3zM438.47 149.42h3v3h-3zM439.53 149.35h3v3h-3zM440.59 149.03h3v3h-3zM441.65 148.52h3v3h-3zM442.71 147.87h3v3h-3zM443.77 147.07h3v3h-3zM444.83 145.59h3v3h-3zM445.89 143.74h3v3h-3zM446.95 141.4h3v3h-3zM448.01 139.71h3v3h-3zM449.07 139.98h3v3h-3zM450.13 140.59h3v3h-3zM451.19 141.3h3v3h-3zM452.25 142.29h3v3h-3zM453.31 143.51h3v3h-3zM454.38 144.75h3v3h-3zM455.44 145.86h3v3h-3zM456.5 146.92h3v3h-3zM457.56 147.95h3v3h-3zM458.62 148.96h3v3h-3zM459.68 149.94h3v3h-3zM460.74 150.86h3v3h-3zM461.8 151.8h3v3h-3zM462.86 152.75h3v3h-3zM463.92 153.68h3v3h-3zM464.98 154.53h3v3h-3zM466.04 155.24h3v3h-3zM467.1 155.77h3v3h-3zM468.16 156.18h3v3h-3zM469.22 156.55h3v3h-3zM470.28 156.85h3v3h-3zM471.34 157.05h3v3h-3zM472.4 157.12h3v3h-3zM473.46 157.16h3v3h-3zM474.52 157.19h3v3h-3zM475.59 157.22h3v3h-3zM476.65 157.25h3v3h-3zM477.71 157.28h3v3h-3zM478.77 157.31h3v3h-3zM479.83 157.33h3v3h-3zM480.89 157.36h3v3h-3zM481.95 157.38h3v3h-3zM483.01 157.4h3v3h-3zM484.07 157.42h3v3h-3zM485.13 157.44h3v3h-3zM486.19 157.45h3v3h-3zM487.25 157.47h3v3h-3zM488.31 157.48h3v3h-3zM489.37 157.49h3v3h-3zM490.43 157.5h3v3h-3zM491.49 157.51h3v3h-3zM492.55 157.52h3v3h-3zM493.61 157.53h3v3h-3zM494.67 157.53h3v3h-3zM495.73 157.54h3v3h-3zM496.8 157.54h3v3h-3zM497.86 157.55h3v3h-3zM498.92 157.55h3v3h-3zM499.98 157.55h3v3h-3zM501.04 157.55h3v3h-3zM502.1 157.55h3v3h-3z" fill="#000" stroke="none" stroke-width="0"/>
<path d="M295.2 159.23a1.6 1.6 0 1 0 3.2 0a1.6 1.6 0 1 0 -3.2 0zM296.33 159.23a1.6 1.6 0 1 0 3.2 0a1.6 1.6 0 1 0 -3.2 0zM297.46 159.23a1.6 1.6 0 1 0 3.2 0a1.6 1.6 0 1 0 -3.2 0zM298.59 159.23a1.6 1.6 0 1 0 3.2 0a1.6 1.6 0 1 0 -3.2 0zM299.72 159.23a1.6 1.6 0 1 0 3.2 0a1.6 1.6 0 1 0 -3.2 0zM300.86 159.23a1.6 1.6 0 1 0 3.2 0a1.6 1.6 0 1 0 -3.2 0zM301.99 159.23a1.6 1.6 0 1 0 3.2 0a1.6 1.6 0 1 0 -3.2 0zM303.12 159.23a1.6 1.6 0 1 0 3.2 0a1.6 1.6 0 1 0 -3.2 0zM304.25 159.23a1.6 1.6 0 1 0 3.2 0a1.6 1.6 0 1 0 -3.2 0zM305.38 159.23a1.6 1.6 0 1 0 3.2 0a1.6 1.6 0 1 0 -3.2 0zM306.51 159.23a1.6 1.6 0 1 0 3.2 0a1.6 1.6 0 1 0 -3.2 0zM307.64 159.23a1.6 1.6 0 1 0 3.2 0a1.6 1.6 0 1 0 -3.2 0zM308.77 159.23a1.6 1.6 0 1 0 3.2 0a1.6 1.6 0 1 0 -3.2 0zM309.91 159.23a1.6 1.6 0 1 0 3.2 0a1.6 1.6 0 1 0 -3.2 0zM311.04 159.23a1.6 1.6 0 1 0 3.2 0a1.6 1.6 0 1 0 -3.2 0zM312.17 159.22a1.6 1.6 0 1 0 3.2 0a1.6 1.6 0 1 0 -3.2 0zM313.3 159.22a1.6 1.6 0 1 0 3.2 0a1.6 1.6 0 1 0 -3.2 0zM314.43 159.22a1.6 1.6 0 1 0 3.2 0a1.6 1.6 0 1 0 -3.2 0zM315.56 159.22a1.6 1.6 0 1 0 3.2 0a1.6 1.6 0 1 0 -3.2 0zM316.69 159.22a1.6 1.6 0 1 0 3.2 0a1.6 1.6 0 1 0 -3.2 0zM317.82 159.22a1.6 1.6 0 1 0 3.2 0a1.6 1.6 0 1 0 -3.2 0zM318.96 159.21a1.6 1.6 0 1 0 3.2 0a1.6 1.6 0 1 0 -3.2 0zM320.09 159.21a1.6 1.6 0 1 0 3.2 0a1.6 1.6 0 1 0 -3.2 0zM321.22 159.21a1.6 1.6 0 1 0 3.2 0a1.6 1.6 0 1 0 -3.2 0zM322.35 159.21a1.6 1.6 0 1 0 3.2 0a1.6 1.6 0 1 0 -3.2 0zM323.48 159.2a1.6 1.6 0 1 0 3.2 0a1.6 1.6 0 1 0 -3.2 0zM324.61 159.2a1.6 1.6 0 1 0 3.2 0a1.6 1.6 0 1 0 -3.2 0zM325.74 159.2a1.6 1.6 0 1 0 3.2 0a1.6 1.6 0 1 0 -3.2 0zM326.87 159.19a1.6 1.6 0 1 0 3.2 0a1.6 1.6 0 1 0 -3.2 0zM328 159.19a1.6 1.6 0 1 0 3.2 0a1.6 1.6 0 1 0 -3.2 0zM329.14 159.19a1.6 1.6 0 1 0 3.2 0a1.6 1.6 0 1 0 -3.2 0zM330.27 159.18a1.6 1.6 0 1 0 3.2 0a1.6 1.6 0 1 0 -3.2 0zM331.4 159.18a1.6 1.6 0 1 0 3.2 0a1.6 1.6 0 1 0 -3.2 0zM332.53 159.17a1.6 1.6 0 1 0 3.2 0a1.6 1.6 0 1 0 -3.2 0zM333.66 159.17a1.6 1.6 0 1 0 3.2 0a1.6 1.6 0 1 0 -3.2 0zM334.79 159.16a1.6 1.6 0 1 0 3.2 0a1.6 1.6 0 1 0 -3.2 0zM335.92 159.16a1.6 1.6 0 1 0 3.2 0a1.6 1.6 0 1 0 -3.2 0zM337.05 159.15a1.6 1.6 0 1 0 3.2 0a1.6 1.6 0 1 0 -3.2 0zM338.19 159.15a1.6 1.6 0 1 0 3.2 0a1.6 1.6 0 1 0 -3.2 0zM339.32 159.14a1.6 1.6 0 1 0 3.2 0a1.6 1.6 0 1 0 -3.2 0zM340.45 159.13a1.6 1.6 0 1 0 3.2 0a1.6 1.6 0 1 0 -3.2 0zM341.58 159.13a1.6 1.6 0 1 0 3.2 0a1.6 1.6 0 1 0 -3.2 0zM342.71 159.12a1.6 1.6 0 1 0 3.2 0a1.6 1.6 0 1 0 -3.2 0zM343.84 159.11a1.6 1.6 0 1 0 3.2 0a1.6 1.6 0 1 0 -3.2 0zM344.97 159.11a1.6 1.6 0 1 0 3.2 0a1.6 1.6 0 1 0 -3.2 0zM346.1 159.1a1.6 1.6 0 1 0 3.2 0a1.6 1.6 0 1 0 -3.2 0zM347.24 159.09a1.6 1.6 0 1 0 3.2 0a1.6 1.6 0 1 0 -3.2 0zM348.37 159.08a1.6 1.6 0 1 0 3.2 0a1.6 1.6 0 1 0 -3.2 0zM349.5 159.07a1.6 1.6 0 1 0 3.2 0a1.6 1.6 0 1 0 -3.2 0zM350.63 159.06a1.6 1.6 0 1 0 3.2 0a1.6 1.6 0 1 0 -3.2 0zM351.76 159.05a1.6 1.6 0 1 0 3.2 0a1.6 1.6 0 1 0 -3.2 0zM352.89 158.92a1.6 1.6 0 1 0 3.2 0a1.6 1.6 0 1 0 -3.2 0zM354.02 158.56a1.6 1.6 0 1 0 3.2 0a1.6 1.6 0 1 0 -3.2 0zM355.15 158.06a1.6 1.6 0 1 0 3.2 0a1.6 1.6 0 1 0 -3.2 0zM356.28 157.45a1.6 1.6 0 1 0 3.2 0a1.6 1.6 0 1 0 -3.2 0zM357.42 156.82a1.6 1.6 0 1 0 3.2 0a1.6 1.6 0 1 0 -3.2 0zM358.55 156.1a1.6 1.6 0 1 0 3.2 0a1.6 1.6 0 1 0 -3.2 0zM359.68 155.19a1.6 1.6 0 1 0 3.2 0a1.6 1.6 0 1 0 -3.2 0zM360.81 154.1a1.6 1.6 0 1 0 3.2 0a1.6 1.6 0 1 0 -3.2 0zM361.94 152.86a1.6 1.6 0 1 0 3.2 0a1.6 1.6 0 1 0 -3.2 0zM363.07 151.44a1.6 1.6 0 1 0 3.2 0a1.6 1.6 0 1 0 -3.2 0zM364.2 149.67a1.6 1.6 0 1 0 3.2 0a1.6 1.6 0 1 0 -3.2 0zM365.33 147.61a1.6 1.6 0 1 0 3.2 0a1.6 1.6 0 1 0 -3.2 0zM366.47 145.3a1.6 1.6 0 1 0 3.2 0a1.6 1.6 0 1 0 -3.2 0zM367.6 142.8a1.6 1.6 0 1 0 3.2 0a1.6 1.6 0 1 0 -3.2 0zM368.73 140.02a1.6 1.6 0 1 0 3.2 0a1.6 1.6 0 1 0 -3.2 0zM369.86 136.92a1.6 1.6 0 1 0 3.2 0a1.6 1.6 0 1 0 -3.2 0zM370.99 133.54a1.6 1.6 0 1 0 3.2 0a1.6 1.6 0 1 0 -3.2 0zM372.12 129.88a1.6 1.6 0 1 0 3.2 0a1.6 1.6 0 1 0 -3.2 0zM373.25 125.98a1.6 1.6 0 1 0 3.2 0a1.6 1.6 0 1 0 -3.2 0zM374.38 121.85a1.6 1.6 0 1 0 3.2 0a1.6 1.6 0 1 0 -3.2 0zM375.52 117.39a1.6 1.6 0 1 0 3.2 0a1.6 1.6 0 1 0 -3.2 0zM376.65 112.25a1.6 1.6 0 1 0 3.2 0a1.6 1.6 0 1 0 -3.2 0zM377.78 106.67a1.6 1.6 0 1 0 3.2 0a1.6 1.6 0 1 0 -3.2 0zM378.91 100.93a1.6 1.6 0 1 0 3.2 0a1.6 1.6 0 1 0 -3.2 0zM380.04 95.3a1.6 1.6 0 1 0 3.2 0a1.6 1.6 0 1 0 -3.2 0zM381.17 89.33a1.6 1.6 0 1 0 3.2 0a1.6 1.6 0 1 0 -3.2 0zM382.3 83.18a1.6 1.6 0 1 0 3.2 0a1.6 1.6 0 1 0 -3.2 0zM383.43 77.27a1.6 1.6 0 1 0 3.2 0a1.6 1.6 0 1 0 -3.2 0zM384.56 72.02a1.6 1.6 0 1 0 3.2 0a1.6 1.6 0 1 0 -3.2 0zM385.7 67.68a1.6 1.6 0 1 0 3.2 0a1.6 1.6 0 1 0 -3.2 0zM386.83 63.87a1.6 1.6 0 1 0 3.2 0a1.6 1.6 0 1 0 -3.2 0zM387.96 60.45a1.6 1.6 0 1 0 3.2 0a1.6 1.6 0 1 0 -3.2 0zM389.09 57.3a1.6 1.6 0 1 0 3.2 0a1.6 1.6 0 1 0 -3.2 0zM390.22 54.22a1.6 1.6 0 1 0 3.2 0a1.6 1.6 0 1 0 -3.2 0zM391.35 51.2a1.6 1.6 0 1 0 3.2 0a1.6 1.6 0 1 0 -3.2 0zM392.48 48.65a1.6 1.6 0 1 0 3.2 0a1.6 1.6 0 1 0 -3.2 0zM393.61 46.95a1.6 1.6 0 1 0 3.2 0a1.6 1.6 0 1 0 -3.2 0zM394.75 45.7a1.6 1.6 0 1 0 3.2 0a1.6 1.6 0 1 0 -3.2 0zM395.88 44.58a1.6 1.6 0 1 0 3.2 0a1.6 1.6 0 1 0 -3.2 0zM397.01 43.65a1.6 1.6 0 1 0 3.2 0a1.6 1.6 0 1 0 -3.2 0zM398.14 42.99a1.6 1.6 0 1 0 3.2 0a1.6 1.6 0 1 0 -3.2 0zM399.27 42.67a1.6 1.6 0 1 0 3.2 0a1.6 1.6 0 1 0 -3.2 0zM400.4 42.82a1.6 1.6 0 1 0 3.2 0a1.6 1.6 0 1 0 -3.2 0zM401.53 43.62a1.6 1.6 0 1 0 3.2 0a1.6 1.6 0 1 0 -3.2 0zM402.66 44.91a1.6 1.6 0 1 0 3.2 0a1.6 1.6 0 1 0 -3.2 0zM403.8 46.5a1.6 1.6 0 1 0 3.2 0a1.6 1.6 0 1 0 -3.2 0zM404.93 48.23a1.6 1.6 0 1 0 3.2 0a1.6 1.6 0 1 0 -3.2 0zM406.06 50.75a1.6 1.6 0 1 0 3.2 0a1.6 1.6 0 1 0 -3.2 0zM407.19 54.09a1.6 1.6 0 1 0 3.2 0a1.6 1.6 0 1 0 -3.2 0zM408.32 57.6a1.6 1.6 0 1 0 3.2 0a1.6 1.6 0 1 0 -3.2 0zM409.45 60.72a1.6 1.6 0 1 0 3.2 0a1.6 1.6 0 1 0 -3.2 0zM410.58 63.77a1.6 1.6 0 1 0 3.2 0a1.6 1.6 0 1 0 -3.2 0zM411.71 66.73a1.6 1.6 0 1 0 3.2 0a1.6 1.6 0 1 0 -3.2 0zM412.84 69.41a1.6 1.6 0 1 0 3.2 0a1.6 1.6 0 1 0 -3.2 0zM413.98 71.67a1.6 1.6 0 1 0 3.2 0a1.6 1.6 0 1 0 -3.2 0zM415.11 73.66a1.6 1.6 0 1 0 3.2 0a1.6 1.6 0 1 0 -3.2 0zM416.24 75.47a1.6 1.6 0 1 0 3.2 0a1.6 1.6 0 1 0 -3.2 0zM417.37 77.22a1.6 1.6 0 1 0 3.2 0a1.6 1.6 0 1 0 -3.2 0zM418.5 78.86a1.6 1.6 0 1 0 3.2 0a1.6 1.6 0 1 0 -3.2 0zM419.63 80.33a1.6 1.6 0 1 0 3.2 0a1.6 1.6 0 1 0 -3.2 0zM420.76 81.74a1.6 1.6 0 1 0 3.2 0a1.6 1.6 0 1 0 -3.2 0zM421.89 83.22a1.6 1.6 0 1 0 3.2 0a1.6 1.6 0 1 0 -3.2 0zM423.03 84.9a1.6 1.6 0 1 0 3.2 0a1.6 1.6 0 1 0 -3.2 0zM424.16 86.89a1.6 1.6 0 1 0 3.2 0a1.6 1.6 0 1 0 -3.2 0zM425.29 89.25a1.6 1.6 0 1 0 3.2 0a1.6 1.6 0 1 0 -3.2 0zM426.42 92.08a1.6 1.6 0 1 0 3.2 0a1.6 1.6 0 1 0 -3.2 0zM427.55 95.46a1.6 1.6 0 1 0 3.2 0a1.6 1.6 0 1 0 -3.2 0zM428.68 100.38a1.6 1.6 0 1 0 3.2 0a1.6 1.6 0 1 0 -3.2 0zM429.81 106.66a1.6 1.6 0 1 0 3.2 0a1.6 1.6 0 1 0 -3.2 0zM430.94 111.07a1.6 1.6 0 1 0 3.2 0a1.6 1.6 0 1 0 -3.2 0zM432.08 113.93a1.6 1.6 0 1 0 3.2 0a1.6 1.6 0 1 0 -3.2 0zM433.21 116.27a1.6 1.6 0 1 0 3.2 0a1.6 1.6 0 1 0 -3.2 0zM434.34 118.54a1.6 1.6 0 1 0 3.2 0a1.6 1.6 0 1 0 -3.2 0zM435.47 121.13a1.6 1.6 0 1 0 3.2 0a1.6 1.6 0 1 0 -3.2 0zM436.6 123.89a1.6 1.6 0 1 0 3.2 0a1.6 1.6 0 1 0 -3.2 0zM437.73 126.54a1.6 1.6 0 1 0 3.2 0a1.6 1.6 0 1 0 -3.2 0zM438.86 128.8a1.6 1.6 0 1 0 3.2 0a1.6 1.6 0 1 0 -3.2 0zM439.99 130.76a1.6 1.6 0 1 0 3.2 0a1.6 1.6 0 1 0 -3.2 0zM441.12 132.49a1.6 1.6 0 1 0 3.2 0a1.6 1.6 0 1 0 -3.2 0zM442.26 133.98a1.6 1.6 0 1 0 3.2 0a1.6 1.6 0 1 0 -3.2 0zM443.39 135.27a1.6 1.6 0 1 0 3.2 0a1.6 1.6 0 1 0 -3.2 0zM444.52 136.42a1.6 1.6 0 1 0 3.2 0a1.6 1.6 0 1 0 -3.2 0zM445.65 137.5a1.6 1.6 0 1 0 3.2 0a1.6 1.6 0 1 0 -3.2 0zM446.78 138.57a1.6 1.6 0 1 0 3.2 0a1.6 1.6 0 1 0 -3.2 0zM447.91 139.68a1.6 1.6 0 1 0 3.2 0a1.6 1.6 0 1 0 -3.2 0zM449.04 140.78a1.6 1.6 0 1 0 3.2 0a1.6 1.6 0 1 0 -3.2 0zM450.17 141.87a1.6 1.6 0 1 0 3.2 0a1.6 1.6 0 1 0 -3.2 0zM451.31 142.93a1.6 1.6 0 1 0 3.2 0a1.6 1.6 0 1 0 -3.2 0zM452.44 143.96a1.6 1.6 0 1 0 3.2 0a1.6 1.6 0 1 0 -3.2 0zM453.57 144.94a1.6 1.6 0 1 0 3.2 0a1.6 1.6 0 1 0 -3.2 0zM454.7 145.85a1.6 1.6 0 1 0 3.2 0a1.6 1.6 0 1 0 -3.2 0zM455.83 146.74a1.6 1.6 0 1 0 3.2 0a1.6 1.6 0 1 0 -3.2 0zM456.96 147.63a1.6 1.6 0 1 0 3.2 0a1.6 1.6 0 1 0 -3.2 0zM458.09 148.59a1.6 1.6 0 1 0 3.2 0a1.6 1.6 0 1 0 -3.2 0zM459.22 149.66a1.6 1.6 0 1 0 3.2 0a1.6 1.6 0 1 0 -3.2 0zM460.36 150.85a1.6 1.6 0 1 0 3.2 0a1.6 1.6 0 1 0 -3.2 0zM461.49 152.09a1.6 1.6 0 1 0 3.2 0a1.6 1.6 0 1 0 -3.2 0zM462.62 153.3a1.6 1.6 0 1 0 3.2 0a1.6 1.6 0 1 0 -3.2 0zM463.75 154.43a1.6 1.6 0 1 0 3.2 0a1.6 1.6 0 1 0 -3.2 0zM464.88 155.63a1.6 1.6 0 1 0 3.2 0a1.6 1.6 0 1 0 -3.2 0zM466.01 156.7a1.6 1.6 0 1 0 3.2 0a1.6 1.6 0 1 0 -3.2 0zM467.14 157.31a1.6 1.6 0 1 0 3.2 0a1.6 1.6 0 1 0 -3.2 0zM468.27 157.63a1.6 1.6 0 1 0 3.2 0a1.6 1.6 0 1 0 -3.2 0zM469.4 157.87a1.6 1.6 0 1 0 3.2 0a1.6 1.6 0 1 0 -3.2 0zM470.54 158.05a1.6 1.6 0 1 0 3.2 0a1.6 1.6 0 1 0 -3.2 0zM471.67 158.15a1.6 1.6 0 1 0 3.2 0a1.6 1.6 0 1 0 -3.2 0zM472.8 158.19a1.6 1.6 0 1 0 3.2 0a1.6 1.6 0 1 0 -3.2 0zM473.93 158.23a1.6 1.6 0 1 0 3.2 0a1.6 1.6 0 1 0 -3.2 0zM475.06 158.26a1.6 1.6 0 1 0 3.2 0a1.6 1.6 0 1 0 -3.2 0zM476.19 158.29a1.6 1.6 0 1 0 3.2 0a1.6 1.6 0 1 0 -3.2 0zM477.32 158.32a1.6 1.6 0 1 0 3.2 0a1.6 1.6 0 1 0 -3.2 0zM478.45 158.35a1.6 1.6 0 1 0 3.2 0a1.6 1.6 0 1 0 -3.2 0zM479.59 158.38a1.6 1.6 0 1 0 3.2 0a1.6 1.6 0 1 0 -3.2 0zM480.72 158.4a1.6 1.6 0 1 0 3.2 0a1.6 1.6 0 1 0 -3.2 0zM481.85 158.43a1.6 1.6 0 1 0 3.2 0a1.6 1.6 0 1 0 -3.2 0zM482.98 158.45a1.6 1.6 0 1 0 3.2 0a1.6 1.6 0 1 0 -3.2 0zM484.11 158.47a1.6 1.6 0 1 0 3.2 0a1.6 1.6 0 1 0 -3.2 0zM485.24 158.49a1.6 1.6 0 1 0 3.2 0a1.6 1.6 0 1 0 -3.2 0zM486.37 158.5a1.6 1.6 0 1 0 3.2 0a1.6 1.6 0 1 0 -3.2 0zM487.5 158.52a1.6 1.6 0 1 0 3.2 0a1.6 1.6 0 1 0 -3.2 0zM488.64 158.53a1.6 1.6 0 1 0 3.2 0a1.6 1.6 0 1 0 -3.2 0zM489.77 158.55a1.6 1.6 0 1 0 3.2 0a1.6 1.6 0 1 0 -3.2 0zM490.9 158.56a1.6 1.6 0 1 0 3.2 0a1.6 1.6 0 1 0 -3.2 0zM492.03 158.57a1.6 1.6 0 1 0 3.2 0a1.6 1.6 0 1 0 -3.2 0zM493.16 158.58a1.6 1.6 0 1 0 3.2 0a1.6 1.6 0 1 0 -3.2 0zM494.29 158.58a1.6 1.6 0 1 0 3.2 0a1.6 1.6 0 1 0 -3.2 0zM495.42 158.59a1.6 1.6 0 1 0 3.2 0a1.6 1.6 0 1 0 -3.2 0zM496.55 158.6a1.6 1.6 0 1 0 3.2 0a1.6 1.6 0 1 0 -3.2 0zM497.68 158.6a1.6 1.6 0 1 0 3.2 0a1.6 1.6 0 1 0 -3.2 0zM498.82 158.6a1.6 1.6 0 1 0 3.2 0a1.6 1.6 0 1 0 -3.2 0zM499.95 158.61a1.6 1.6 0 1 0 3.2 0a1.6 1.6 0 1 0 -3.2 0zM501.08 158.61a1.6 1.6 0 1 0 3.2 0a1.6 1.6 0 1 0 -3.2 0zM502.21 158.61a1.6 1.6 0 1 0 3.2 0a1.6 1.6 0 1 0 -3.2 0z" fill="#000" stroke="none" stroke-width="0"/>
<path d="M472.14 157.27 L474.96 154.59 L478.5 149.69 L482.03 145.67 L484.86 144.78 L487.69 145.58 L490.16 147.46 L489.46 149.42 L487.34 149.87 L486.28 148.53" fill="none" stroke="#000" stroke-width="2.2" stroke-linejoin="round"/>
<circle cx="490.52" cy="155.58" r="1.5" fill="#000"/>
<line x1="296.8" y1="158.7" x2="354.77" y2="158.7" stroke="#000" stroke-width="2.2"/>
<line x1="468.6" y1="158.5" x2="503.95" y2="158.5" stroke="#000" stroke-width="2.6"/>
<line x1="39.5" y1="191" x2="39.5" y2="339.5" stroke="#8c8c8c" stroke-width="1"/>
<line x1="39.5" y1="339.5" x2="248.39" y2="339.5" stroke="#8c8c8c" stroke-width="1"/>
<text x="30.2" y="342.7" font-size="9.4" font-family="'Liberation Serif', serif" text-anchor="end" fill="#000">0</text>
<text x="30.2" y="296.35" font-size="9.4" font-family="'Liberation Serif', serif" text-anchor="end" fill="#000">50</text>
<text x="30.2" y="250" font-size="9.4" font-family="'Liberation Serif', serif" text-anchor="end" fill="#000">100</text>
<text x="30.2" y="203.65" font-size="9.4" font-family="'Liberation Serif', serif" text-anchor="end" fill="#000">150</text>
<text x="39.5" y="357.8" font-size="9.2" font-family="'Liberation Serif', serif" text-anchor="middle" fill="#000">0</text>
<text x="74.31" y="357.8" font-size="9.2" font-family="'Liberation Serif', serif" text-anchor="middle" fill="#000">5</text>
<text x="109.13" y="357.8" font-size="9.2" font-family="'Liberation Serif', serif" text-anchor="middle" fill="#000">10</text>
<text x="143.94" y="357.8" font-size="9.2" font-family="'Liberation Serif', serif" text-anchor="middle" fill="#000">15</text>
<text x="178.76" y="357.8" font-size="9.2" font-family="'Liberation Serif', serif" text-anchor="middle" fill="#000">20</text>
<text x="213.57" y="357.8" font-size="9.2" font-family="'Liberation Serif', serif" text-anchor="middle" fill="#000">25</text>
<text x="248.39" y="357.8" font-size="9.2" font-family="'Liberation Serif', serif" text-anchor="middle" fill="#000">30</text>
<text x="152.65" y="374.4" font-size="8.15" font-family="'Liberation Serif', serif" text-anchor="middle" fill="#000">Time (min)</text>
<text x="9.2" y="272.3" font-size="8.1" font-family="'Liberation Serif', serif" text-anchor="middle" fill="#000" transform="rotate(-90 9.2 272.3)">Thrombin (nM)</text>
<path d="M39.5 338.57 L39.85 338.57 L40.2 338.57 L40.54 338.57 L40.89 338.57 L41.24 338.57 L41.59 338.57 L41.94 338.57 L42.29 338.57 L42.63 338.57 L42.98 338.57 L43.33 338.57 L43.68 338.57 L44.03 338.57 L44.37 338.57 L44.72 338.57 L45.07 338.57 L45.42 338.57 L45.77 338.57 L46.11 338.57 L46.46 338.57 L46.81 338.57 L47.16 338.57 L47.51 338.57 L47.86 338.57 L48.2 338.57 L48.55 338.57 L48.9 338.57 L49.25 338.57 L49.6 338.57 L49.94 338.57 L50.29 338.57 L50.64 338.57 L50.99 338.57 L51.34 338.57 L51.69 338.57 L52.03 338.57 L52.38 338.57 L52.73 338.57 L53.08 338.57 L53.43 338.57 L53.77 338.57 L54.12 338.57 L54.47 338.57 L54.82 338.57 L55.17 338.57 L55.51 338.57 L55.86 338.57 L56.21 338.57 L56.56 338.57 L56.91 338.57 L57.26 338.57 L57.6 338.57 L57.95 338.57 L58.3 338.57 L58.65 338.57 L59 338.57 L59.34 338.57 L59.69 338.57 L60.04 338.57 L60.39 338.57 L60.74 338.57 L61.09 338.57 L61.43 338.57 L61.78 338.57 L62.13 338.57 L62.48 338.57 L62.83 338.57 L63.17 338.57 L63.52 338.57 L63.87 338.57 L64.22 338.57 L64.57 338.57 L64.91 338.57 L65.26 338.57 L65.61 338.57 L65.96 338.57 L66.31 338.57 L66.66 338.57 L67 338.57 L67.35 338.57 L67.7 338.57 L68.05 338.57 L68.4 338.57 L68.74 338.57 L69.09 338.57 L69.44 338.57 L69.79 338.57 L70.14 338.57 L70.49 338.57 L70.83 338.57 L71.18 338.57 L71.53 338.57 L71.88 338.57 L72.23 338.57 L72.57 338.57 L72.92 338.57 L73.27 338.57 L73.62 338.57 L73.97 338.57 L74.31 338.57 L74.66 338.57 L75.01 338.57 L75.36 338.57 L75.71 338.57 L76.06 338.57 L76.4 338.57 L76.75 338.57 L77.1 338.57 L77.45 338.57 L77.8 338.57 L78.14 338.57 L78.49 338.57 L78.84 338.57 L79.19 338.57 L79.54 338.57 L79.89 338.57 L80.23 338.57 L80.58 338.57 L80.93 338.57 L81.28 338.57 L81.63 338.57 L81.97 338.57 L82.32 338.57 L82.67 338.57 L83.02 338.57 L83.37 338.57 L83.72 338.57 L84.06 338.57 L84.41 338.57 L84.76 338.57 L85.11 338.57 L85.46 338.57 L85.8 338.57 L86.15 338.57 L86.5 338.57 L86.85 338.57 L87.2 338.57 L87.54 338.57 L87.89 338.57 L88.24 338.57 L88.59 338.57 L88.94 338.55 L89.29 338.53 L89.63 338.5 L89.98 338.46 L90.33 338.41 L90.68 338.36 L91.03 338.29 L91.37 338.23 L91.72 338.15 L92.07 338.07 L92.42 337.99 L92.77 337.9 L93.12 337.8 L93.46 337.71 L93.81 337.61 L94.16 337.5 L94.51 337.4 L94.86 337.29 L95.2 337.18 L95.55 337.06 L95.9 336.93 L96.25 336.78 L96.6 336.61 L96.94 336.42 L97.29 336.22 L97.64 336.01 L97.99 335.78 L98.34 335.53 L98.69 335.28 L99.03 335.01 L99.38 334.72 L99.73 334.43 L100.08 334.12 L100.43 333.81 L100.77 333.48 L101.12 333.15 L101.47 332.8 L101.82 332.45 L102.17 332.08 L102.52 331.7 L102.86 331.28 L103.21 330.82 L103.56 330.33 L103.91 329.8 L104.26 329.25 L104.6 328.66 L104.95 328.05 L105.3 327.41 L105.65 326.75 L106 326.06 L106.34 325.35 L106.69 324.62 L107.04 323.88 L107.39 323.11 L107.74 322.34 L108.09 321.54 L108.43 320.74 L108.78 319.93 L109.13 319.11 L109.48 318.28 L109.83 317.43 L110.17 316.58 L110.52 315.71 L110.87 314.82 L111.22 313.91 L111.57 312.98 L111.92 312.03 L112.26 311.05 L112.61 310.05 L112.96 309.01 L113.31 307.94 L113.66 306.84 L114 305.71 L114.35 304.53 L114.7 303.32 L115.05 302.06 L115.4 300.76 L115.74 299.41 L116.09 298.02 L116.44 296.57 L116.79 295.07 L117.14 293.52 L117.49 291.91 L117.83 290.24 L118.18 288.51 L118.53 286.56 L118.88 284.26 L119.23 281.67 L119.57 278.86 L119.92 275.89 L120.27 272.81 L120.62 269.69 L120.97 266.59 L121.32 263.58 L121.66 260.7 L122.01 257.9 L122.36 255.06 L122.71 252.21 L123.06 249.34 L123.4 246.49 L123.75 243.66 L124.1 240.88 L124.45 238.14 L124.8 235.48 L125.14 232.89 L125.49 230.32 L125.84 227.68 L126.19 225.01 L126.54 222.34 L126.89 219.71 L127.23 217.15 L127.58 214.69 L127.93 212.37 L128.28 210.21 L128.63 208.26 L128.97 206.54 L129.32 205.08 L129.67 203.8 L130.02 202.55 L130.37 201.37 L130.72 200.25 L131.06 199.23 L131.41 198.3 L131.76 197.48 L132.11 196.78 L132.46 196.22 L132.8 195.81 L133.15 195.49 L133.5 195.19 L133.85 194.91 L134.2 194.65 L134.54 194.43 L134.89 194.24 L135.24 194.1 L135.59 194 L135.94 193.96 L136.29 193.99 L136.63 194.11 L136.98 194.3 L137.33 194.56 L137.68 194.89 L138.03 195.26 L138.37 195.68 L138.72 196.14 L139.07 196.61 L139.42 197.11 L139.77 197.61 L140.12 198.11 L140.46 198.6 L140.81 199.1 L141.16 199.66 L141.51 200.26 L141.86 200.9 L142.2 201.58 L142.55 202.29 L142.9 203.03 L143.25 203.8 L143.6 204.58 L143.94 205.38 L144.29 206.2 L144.64 207.01 L144.99 207.84 L145.34 208.66 L145.69 209.52 L146.03 210.42 L146.38 211.36 L146.73 212.31 L147.08 213.28 L147.43 214.26 L147.77 215.24 L148.12 216.21 L148.47 217.17 L148.82 218.13 L149.17 219.09 L149.52 220.06 L149.86 221.03 L150.21 222 L150.56 222.98 L150.91 223.96 L151.26 224.96 L151.6 225.96 L151.95 226.98 L152.3 228.01 L152.65 229.05 L153 230.11 L153.35 231.2 L153.69 232.31 L154.04 233.46 L154.39 234.62 L154.74 235.81 L155.09 237.02 L155.43 238.25 L155.78 239.48 L156.13 240.73 L156.48 241.99 L156.83 243.25 L157.17 244.51 L157.52 245.77 L157.87 247.02 L158.22 248.27 L158.57 249.51 L158.92 250.74 L159.26 251.95 L159.61 253.14 L159.96 254.31 L160.31 255.45 L160.66 256.57 L161 257.66 L161.35 258.71 L161.7 259.73 L162.05 260.7 L162.4 261.65 L162.75 262.57 L163.09 263.47 L163.44 264.35 L163.79 265.21 L164.14 266.06 L164.49 266.89 L164.83 267.7 L165.18 268.51 L165.53 269.3 L165.88 270.08 L166.23 270.86 L166.57 271.63 L166.92 272.39 L167.27 273.15 L167.62 273.92 L167.97 274.68 L168.32 275.44 L168.66 276.21 L169.01 276.99 L169.36 277.77 L169.71 278.56 L170.06 279.36 L170.4 280.17 L170.75 281 L171.1 281.84 L171.45 282.69 L171.8 283.55 L172.15 284.42 L172.49 285.3 L172.84 286.18 L173.19 287.06 L173.54 287.95 L173.89 288.83 L174.23 289.71 L174.58 290.58 L174.93 291.45 L175.28 292.31 L175.63 293.16 L175.97 294 L176.32 294.82 L176.67 295.62 L177.02 296.41 L177.37 297.18 L177.72 297.92 L178.06 298.64 L178.41 299.34 L178.76 300.01 L179.11 300.66 L179.46 301.31 L179.8 301.95 L180.15 302.58 L180.5 303.21 L180.85 303.84 L181.2 304.46 L181.55 305.07 L181.89 305.67 L182.24 306.27 L182.59 306.87 L182.94 307.45 L183.29 308.03 L183.63 308.61 L183.98 309.17 L184.33 309.73 L184.68 310.29 L185.03 310.83 L185.37 311.37 L185.72 311.9 L186.07 312.42 L186.42 312.94 L186.77 313.44 L187.12 313.94 L187.46 314.43 L187.81 314.92 L188.16 315.39 L188.51 315.86 L188.86 316.32 L189.2 316.77 L189.55 317.21 L189.9 317.64 L190.25 318.06 L190.6 318.47 L190.95 318.88 L191.29 319.27 L191.64 319.66 L191.99 320.03 L192.34 320.4 L192.69 320.76 L193.03 321.12 L193.38 321.47 L193.73 321.81 L194.08 322.15 L194.43 322.48 L194.77 322.81 L195.12 323.13 L195.47 323.45 L195.82 323.76 L196.17 324.07 L196.52 324.37 L196.86 324.67 L197.21 324.96 L197.56 325.25 L197.91 325.53 L198.26 325.81 L198.6 326.09 L198.95 326.36 L199.3 326.62 L199.65 326.88 L200 327.14 L200.35 327.4 L200.69 327.65 L201.04 327.89 L201.39 328.14 L201.74 328.38 L202.09 328.61 L202.43 328.85 L202.78 329.08 L203.13 329.3 L203.48 329.53 L203.83 329.75 L204.17 329.98 L204.52 330.2 L204.87 330.42 L205.22 330.64 L205.57 330.85 L205.92 331.07 L206.26 331.28 L206.61 331.49 L206.96 331.7 L207.31 331.9 L207.66 332.11 L208 332.3 L208.35 332.5 L208.7 332.69 L209.05 332.88 L209.4 333.06 L209.75 333.24 L210.09 333.41 L210.44 333.58 L210.79 333.75 L211.14 333.91 L211.49 334.06 L211.83 334.21 L212.18 334.35 L212.53 334.49 L212.88 334.62 L213.23 334.75 L213.57 334.87 L213.92 334.98 L214.27 335.09 L214.62 335.2 L214.97 335.31 L215.32 335.42 L215.66 335.53 L216.01 335.64 L216.36 335.74 L216.71 335.85 L217.06 335.95 L217.4 336.05 L217.75 336.15 L218.1 336.24 L218.45 336.34 L218.8 336.43 L219.15 336.53 L219.49 336.62 L219.84 336.7 L220.19 336.79 L220.54 336.88 L220.89 336.96 L221.23 337.04 L221.58 337.12 L221.93 337.19 L222.28 337.27 L222.63 337.34 L222.98 337.41 L223.32 337.48 L223.67 337.54 L224.02 337.61 L224.37 337.67 L224.72 337.73 L225.06 337.78 L225.41 337.84 L225.76 337.89 L226.11 337.94 L226.46 337.99 L226.8 338.03 L227.15 338.07 L227.5 338.11 L227.85 338.15 L228.2 338.18 L228.55 338.22 L228.89 338.26 L229.24 338.29 L229.59 338.33 L229.94 338.37 L230.29 338.4 L230.63 338.44 L230.98 338.47 L231.33 338.51 L231.68 338.54 L232.03 338.58 L232.38 338.61 L232.72 338.64 L233.07 338.68 L233.42 338.71 L233.77 338.74 L234.12 338.77 L234.46 338.8 L234.81 338.83 L235.16 338.86 L235.51 338.89 L235.86 338.92 L236.2 338.95 L236.55 338.98 L236.9 339.01 L237.25 339.03 L237.6 339.06 L237.95 339.09 L238.29 339.11 L238.64 339.14 L238.99 339.16 L239.34 339.18 L239.69 339.2 L240.03 339.23 L240.38 339.25 L240.73 339.27 L241.08 339.29 L241.43 339.31 L241.78 339.32 L242.12 339.34 L242.47 339.36 L242.82 339.37 L243.17 339.39 L243.52 339.4 L243.86 339.42 L244.21 339.43 L244.56 339.44 L244.91 339.45 L245.26 339.46 L245.6 339.47 L245.95 339.47 L246.3 339.48 L246.65 339.49 L247 339.49 L247.35 339.5 L247.69 339.5 L248.04 339.5 L248.39 339.5" fill="none" stroke="#a8a8a8" stroke-width="1"/>
<path d="M39.5 339.04 L39.85 339.04 L40.2 339.04 L40.54 339.04 L40.89 339.04 L41.24 339.04 L41.59 339.04 L41.94 339.04 L42.29 339.04 L42.63 339.04 L42.98 339.04 L43.33 339.04 L43.68 339.04 L44.03 339.04 L44.37 339.04 L44.72 339.04 L45.07 339.04 L45.42 339.04 L45.77 339.04 L46.11 339.04 L46.46 339.04 L46.81 339.04 L47.16 339.04 L47.51 339.04 L47.86 339.04 L48.2 339.04 L48.55 339.04 L48.9 339.04 L49.25 339.04 L49.6 339.04 L49.94 339.04 L50.29 339.04 L50.64 339.04 L50.99 339.04 L51.34 339.04 L51.69 339.04 L52.03 339.04 L52.38 339.04 L52.73 339.04 L53.08 339.04 L53.43 339.04 L53.77 339.04 L54.12 339.04 L54.47 339.04 L54.82 339.04 L55.17 339.04 L55.51 339.04 L55.86 339.04 L56.21 339.04 L56.56 339.04 L56.91 339.04 L57.26 339.04 L57.6 339.04 L57.95 339.04 L58.3 339.04 L58.65 339.04 L59 339.04 L59.34 339.04 L59.69 339.04 L60.04 339.04 L60.39 339.04 L60.74 339.04 L61.09 339.04 L61.43 339.04 L61.78 339.04 L62.13 339.04 L62.48 339.04 L62.83 339.04 L63.17 339.04 L63.52 339.04 L63.87 339.04 L64.22 339.04 L64.57 339.04 L64.91 339.04 L65.26 339.04 L65.61 339.04 L65.96 339.04 L66.31 339.04 L66.66 339.04 L67 339.04 L67.35 339.04 L67.7 339.04 L68.05 339.04 L68.4 339.04 L68.74 339.04 L69.09 339.04 L69.44 339.04 L69.79 339.04 L70.14 339.04 L70.49 339.04 L70.83 339.04 L71.18 339.04 L71.53 339.04 L71.88 339.04 L72.23 339.04 L72.57 339.04 L72.92 339.04 L73.27 339.04 L73.62 339.04 L73.97 339.04 L74.31 339.04 L74.66 339.04 L75.01 339.04 L75.36 339.04 L75.71 339.04 L76.06 339.04 L76.4 339.04 L76.75 339.04 L77.1 339.04 L77.45 339.04 L77.8 339.04 L78.14 339.04 L78.49 339.04 L78.84 339.04 L79.19 339.04 L79.54 339.04 L79.89 339.04 L80.23 339.04 L80.58 339.04 L80.93 339.04 L81.28 339.04 L81.63 339.04 L81.97 339.04 L82.32 339.04 L82.67 339.04 L83.02 339.04 L83.37 339.04 L83.72 339.04 L84.06 339.04 L84.41 339.04 L84.76 339.04 L85.11 339.04 L85.46 339.04 L85.8 339.04 L86.15 339.04 L86.5 339.04 L86.85 339.04 L87.2 339.04 L87.54 339.04 L87.89 339.04 L88.24 339.04 L88.59 339.03 L88.94 339.02 L89.29 338.99 L89.63 338.96 L89.98 338.92 L90.33 338.87 L90.68 338.82 L91.03 338.75 L91.37 338.68 L91.72 338.61 L92.07 338.53 L92.42 338.44 L92.77 338.35 L93.12 338.26 L93.46 338.16 L93.81 338.06 L94.16 337.96 L94.51 337.86 L94.86 337.75 L95.2 337.65 L95.55 337.53 L95.9 337.4 L96.25 337.26 L96.6 337.1 L96.94 336.93 L97.29 336.74 L97.64 336.55 L97.99 336.34 L98.34 336.12 L98.69 335.88 L99.03 335.64 L99.38 335.38 L99.73 335.12 L100.08 334.84 L100.43 334.56 L100.77 334.27 L101.12 333.96 L101.47 333.65 L101.82 333.34 L102.17 333.01 L102.52 332.67 L102.86 332.29 L103.21 331.88 L103.56 331.44 L103.91 330.98 L104.26 330.49 L104.6 329.97 L104.95 329.43 L105.3 328.87 L105.65 328.29 L106 327.68 L106.34 327.06 L106.69 326.43 L107.04 325.78 L107.39 325.11 L107.74 324.43 L108.09 323.74 L108.43 323.04 L108.78 322.32 L109.13 321.58 L109.48 320.81 L109.83 320 L110.17 319.16 L110.52 318.27 L110.87 317.33 L111.22 316.34 L111.57 315.28 L111.92 314.16 L112.26 312.96 L112.61 311.69 L112.96 310.25 L113.31 308.56 L113.66 306.68 L114 304.61 L114.35 302.41 L114.7 300.1 L115.05 297.7 L115.4 295.26 L115.74 292.81 L116.09 290.37 L116.44 287.9 L116.79 285.34 L117.14 282.69 L117.49 279.95 L117.83 277.15 L118.18 274.28 L118.53 271.35 L118.88 268.37 L119.23 265.34 L119.57 262.15 L119.92 258.73 L120.27 255.14 L120.62 251.45 L120.97 247.73 L121.32 244.05 L121.66 240.49 L122.01 237.1 L122.36 233.96 L122.71 231.14 L123.06 228.63 L123.4 226.21 L123.75 223.85 L124.1 221.56 L124.45 219.35 L124.8 217.23 L125.14 215.2 L125.49 213.28 L125.84 211.47 L126.19 209.79 L126.54 208.23 L126.89 206.82 L127.23 205.55 L127.58 204.41 L127.93 203.33 L128.28 202.29 L128.63 201.31 L128.97 200.4 L129.32 199.57 L129.67 198.83 L130.02 198.18 L130.37 197.63 L130.72 197.21 L131.06 196.84 L131.41 196.49 L131.76 196.16 L132.11 195.86 L132.46 195.59 L132.8 195.36 L133.15 195.17 L133.5 195.05 L133.85 194.99 L134.2 194.99 L134.54 195.07 L134.89 195.2 L135.24 195.39 L135.59 195.62 L135.94 195.9 L136.29 196.21 L136.63 196.55 L136.98 196.91 L137.33 197.28 L137.68 197.67 L138.03 198.12 L138.37 198.67 L138.72 199.33 L139.07 200.08 L139.42 200.91 L139.77 201.8 L140.12 202.75 L140.46 203.73 L140.81 204.75 L141.16 205.79 L141.51 206.83 L141.86 207.87 L142.2 208.93 L142.55 210.04 L142.9 211.22 L143.25 212.44 L143.6 213.71 L143.94 215.02 L144.29 216.37 L144.64 217.76 L144.99 219.18 L145.34 220.63 L145.69 222.1 L146.03 223.61 L146.38 225.21 L146.73 226.89 L147.08 228.64 L147.43 230.44 L147.77 232.29 L148.12 234.16 L148.47 236.06 L148.82 237.95 L149.17 239.84 L149.52 241.7 L149.86 243.52 L150.21 245.3 L150.56 247.02 L150.91 248.65 L151.26 250.25 L151.6 251.86 L151.95 253.46 L152.3 255.05 L152.65 256.62 L153 258.16 L153.35 259.68 L153.69 261.15 L154.04 262.58 L154.39 263.95 L154.74 265.26 L155.09 266.51 L155.43 267.68 L155.78 268.77 L156.13 269.8 L156.48 270.78 L156.83 271.72 L157.17 272.62 L157.52 273.48 L157.87 274.33 L158.22 275.15 L158.57 275.97 L158.92 276.78 L159.26 277.59 L159.61 278.41 L159.96 279.25 L160.31 280.09 L160.66 280.91 L161 281.73 L161.35 282.55 L161.7 283.36 L162.05 284.16 L162.4 284.96 L162.75 285.76 L163.09 286.57 L163.44 287.38 L163.79 288.19 L164.14 289.01 L164.49 289.84 L164.83 290.68 L165.18 291.53 L165.53 292.38 L165.88 293.23 L166.23 294.08 L166.57 294.93 L166.92 295.77 L167.27 296.6 L167.62 297.43 L167.97 298.24 L168.32 299.03 L168.66 299.81 L169.01 300.57 L169.36 301.31 L169.71 302.06 L170.06 302.81 L170.4 303.55 L170.75 304.29 L171.1 305.02 L171.45 305.73 L171.8 306.43 L172.15 307.12 L172.49 307.79 L172.84 308.44 L173.19 309.06 L173.54 309.66 L173.89 310.23 L174.23 310.76 L174.58 311.28 L174.93 311.78 L175.28 312.27 L175.63 312.74 L175.97 313.2 L176.32 313.66 L176.67 314.1 L177.02 314.53 L177.37 314.95 L177.72 315.36 L178.06 315.77 L178.41 316.17 L178.76 316.56 L179.11 316.94 L179.46 317.32 L179.8 317.69 L180.15 318.06 L180.5 318.43 L180.85 318.79 L181.2 319.15 L181.55 319.51 L181.89 319.86 L182.24 320.22 L182.59 320.57 L182.94 320.93 L183.29 321.28 L183.63 321.63 L183.98 321.97 L184.33 322.32 L184.68 322.66 L185.03 323 L185.37 323.33 L185.72 323.67 L186.07 324 L186.42 324.33 L186.77 324.65 L187.12 324.97 L187.46 325.29 L187.81 325.6 L188.16 325.91 L188.51 326.22 L188.86 326.52 L189.2 326.81 L189.55 327.1 L189.9 327.39 L190.25 327.67 L190.6 327.95 L190.95 328.22 L191.29 328.48 L191.64 328.74 L191.99 329 L192.34 329.25 L192.69 329.49 L193.03 329.73 L193.38 329.96 L193.73 330.2 L194.08 330.43 L194.43 330.66 L194.77 330.89 L195.12 331.12 L195.47 331.34 L195.82 331.57 L196.17 331.78 L196.52 332 L196.86 332.21 L197.21 332.42 L197.56 332.63 L197.91 332.83 L198.26 333.03 L198.6 333.23 L198.95 333.42 L199.3 333.6 L199.65 333.79 L200 333.96 L200.35 334.14 L200.69 334.31 L201.04 334.47 L201.39 334.63 L201.74 334.78 L202.09 334.92 L202.43 335.07 L202.78 335.2 L203.13 335.33 L203.48 335.45 L203.83 335.58 L204.17 335.7 L204.52 335.82 L204.87 335.94 L205.22 336.06 L205.57 336.18 L205.92 336.3 L206.26 336.41 L206.61 336.52 L206.96 336.63 L207.31 336.74 L207.66 336.84 L208 336.95 L208.35 337.05 L208.7 337.14 L209.05 337.24 L209.4 337.33 L209.75 337.41 L210.09 337.5 L210.44 337.58 L210.79 337.65 L211.14 337.73 L211.49 337.79 L211.83 337.86 L212.18 337.92 L212.53 337.97 L212.88 338.02 L213.23 338.07 L213.57 338.11 L213.92 338.15 L214.27 338.18 L214.62 338.22 L214.97 338.25 L215.32 338.29 L215.66 338.32 L216.01 338.35 L216.36 338.39 L216.71 338.42 L217.06 338.45 L217.4 338.48 L217.75 338.5 L218.1 338.53 L218.45 338.56 L218.8 338.58 L219.15 338.61 L219.49 338.63 L219.84 338.66 L220.19 338.68 L220.54 338.7 L220.89 338.73 L221.23 338.75 L221.58 338.77 L221.93 338.79 L222.28 338.81 L222.63 338.83 L222.98 338.84 L223.32 338.86 L223.67 338.88 L224.02 338.9 L224.37 338.91 L224.72 338.93 L225.06 338.94 L225.41 338.96 L225.76 338.97 L226.11 338.99 L226.46 339 L226.8 339.01 L227.15 339.02 L227.5 339.04 L227.85 339.05 L228.2 339.06 L228.55 339.07 L228.89 339.08 L229.24 339.1 L229.59 339.11 L229.94 339.12 L230.29 339.13 L230.63 339.14 L230.98 339.15 L231.33 339.17 L231.68 339.18 L232.03 339.19 L232.38 339.2 L232.72 339.21 L233.07 339.22 L233.42 339.23 L233.77 339.24 L234.12 339.25 L234.46 339.26 L234.81 339.27 L235.16 339.28 L235.51 339.29 L235.86 339.3 L236.2 339.31 L236.55 339.32 L236.9 339.33 L237.25 339.34 L237.6 339.35 L237.95 339.36 L238.29 339.37 L238.64 339.37 L238.99 339.38 L239.34 339.39 L239.69 339.4 L240.03 339.41 L240.38 339.41 L240.73 339.42 L241.08 339.43 L241.43 339.43 L241.78 339.44 L242.12 339.45 L242.47 339.45 L242.82 339.46 L243.17 339.46 L243.52 339.47 L243.86 339.47 L244.21 339.47 L244.56 339.48 L244.91 339.48 L245.26 339.49 L245.6 339.49 L245.95 339.49 L246.3 339.49 L246.65 339.5 L247 339.5 L247.35 339.5 L247.69 339.5 L248.04 339.5 L248.39 339.5" fill="none" stroke="#000" stroke-width="1.2" stroke-dasharray="2.4 1.6"/>
<path d="M39.5 336.97l1.6 3.2h-3.2zM40.47 336.97l1.6 3.2h-3.2zM41.45 336.97l1.6 3.2h-3.2zM42.42 336.97l1.6 3.2h-3.2zM43.4 336.97l1.6 3.2h-3.2zM44.37 336.97l1.6 3.2h-3.2zM45.35 336.97l1.6 3.2h-3.2zM46.32 336.97l1.6 3.2h-3.2zM47.3 336.97l1.6 3.2h-3.2zM48.27 336.97l1.6 3.2h-3.2zM49.25 336.97l1.6 3.2h-3.2zM50.22 336.97l1.6 3.2h-3.2zM51.2 336.97l1.6 3.2h-3.2zM52.17 336.97l1.6 3.2h-3.2zM53.15 336.97l1.6 3.2h-3.2zM54.12 336.97l1.6 3.2h-3.2zM55.1 336.97l1.6 3.2h-3.2zM56.07 336.97l1.6 3.2h-3.2zM57.05 336.97l1.6 3.2h-3.2zM58.02 336.97l1.6 3.2h-3.2zM59 336.97l1.6 3.2h-3.2zM59.97 336.97l1.6 3.2h-3.2zM60.95 336.97l1.6 3.2h-3.2zM61.92 336.97l1.6 3.2h-3.2zM62.9 336.97l1.6 3.2h-3.2zM63.87 336.97l1.6 3.2h-3.2zM64.85 336.97l1.6 3.2h-3.2zM65.82 336.97l1.6 3.2h-3.2zM66.79 336.84l1.6 3.2h-3.2zM67.77 336.42l1.6 3.2h-3.2zM68.74 335.84l1.6 3.2h-3.2zM69.72 335.23l1.6 3.2h-3.2zM70.69 334.71l1.6 3.2h-3.2zM71.67 334.29l1.6 3.2h-3.2zM72.64 333.84l1.6 3.2h-3.2zM73.62 333.46l1.6 3.2h-3.2zM74.59 333.27l1.6 3.2h-3.2zM75.57 333.33l1.6 3.2h-3.2zM76.54 333.58l1.6 3.2h-3.2zM77.52 333.94l1.6 3.2h-3.2zM78.49 334.36l1.6 3.2h-3.2zM79.47 334.78l1.6 3.2h-3.2zM80.44 335.4l1.6 3.2h-3.2zM81.42 336.13l1.6 3.2h-3.2zM82.39 336.72l1.6 3.2h-3.2zM83.37 336.97l1.6 3.2h-3.2zM84.34 336.97l1.6 3.2h-3.2zM85.32 336.97l1.6 3.2h-3.2zM86.29 336.97l1.6 3.2h-3.2zM87.27 336.97l1.6 3.2h-3.2zM88.24 336.97l1.6 3.2h-3.2zM89.22 336.94l1.6 3.2h-3.2zM90.19 336.83l1.6 3.2h-3.2zM91.17 336.67l1.6 3.2h-3.2zM92.14 336.45l1.6 3.2h-3.2zM93.12 336.2l1.6 3.2h-3.2zM94.09 335.92l1.6 3.2h-3.2zM95.06 335.63l1.6 3.2h-3.2zM96.04 335.26l1.6 3.2h-3.2zM97.01 334.76l1.6 3.2h-3.2zM97.99 334.14l1.6 3.2h-3.2zM98.96 333.41l1.6 3.2h-3.2zM99.94 332.59l1.6 3.2h-3.2zM100.91 331.7l1.6 3.2h-3.2zM101.89 330.76l1.6 3.2h-3.2zM102.86 329.73l1.6 3.2h-3.2zM103.84 328.47l1.6 3.2h-3.2zM104.81 327.04l1.6 3.2h-3.2zM105.79 325.47l1.6 3.2h-3.2zM106.76 323.82l1.6 3.2h-3.2zM107.74 322.14l1.6 3.2h-3.2zM108.71 320.58l1.6 3.2h-3.2zM109.69 319.03l1.6 3.2h-3.2zM110.66 317.17l1.6 3.2h-3.2zM111.64 314.67l1.6 3.2h-3.2zM112.61 310.08l1.6 3.2h-3.2zM113.59 301.66l1.6 3.2h-3.2zM114.56 292.37l1.6 3.2h-3.2zM115.54 284.87l1.6 3.2h-3.2zM116.51 277.99l1.6 3.2h-3.2zM117.49 271.38l1.6 3.2h-3.2zM118.46 265.09l1.6 3.2h-3.2zM119.44 259.19l1.6 3.2h-3.2zM120.41 253.71l1.6 3.2h-3.2zM121.38 248.52l1.6 3.2h-3.2zM122.36 243.54l1.6 3.2h-3.2zM123.33 238.85l1.6 3.2h-3.2zM124.31 234.5l1.6 3.2h-3.2zM125.28 230.56l1.6 3.2h-3.2zM126.26 227.04l1.6 3.2h-3.2zM127.23 223.67l1.6 3.2h-3.2zM128.21 220.46l1.6 3.2h-3.2zM129.18 217.56l1.6 3.2h-3.2zM130.16 215.09l1.6 3.2h-3.2zM131.13 213.18l1.6 3.2h-3.2zM132.11 211.77l1.6 3.2h-3.2zM133.08 210.44l1.6 3.2h-3.2zM134.06 209.28l1.6 3.2h-3.2zM135.03 208.39l1.6 3.2h-3.2zM136.01 207.85l1.6 3.2h-3.2zM136.98 207.78l1.6 3.2h-3.2zM137.96 208.13l1.6 3.2h-3.2zM138.93 208.8l1.6 3.2h-3.2zM139.91 209.66l1.6 3.2h-3.2zM140.88 210.63l1.6 3.2h-3.2zM141.86 211.71l1.6 3.2h-3.2zM142.83 213.18l1.6 3.2h-3.2zM143.81 214.94l1.6 3.2h-3.2zM144.78 216.83l1.6 3.2h-3.2zM145.76 218.72l1.6 3.2h-3.2zM146.73 220.52l1.6 3.2h-3.2zM147.71 222.32l1.6 3.2h-3.2zM148.68 224.19l1.6 3.2h-3.2zM149.65 226.23l1.6 3.2h-3.2zM150.63 228.51l1.6 3.2h-3.2zM151.6 231.21l1.6 3.2h-3.2zM152.58 234.36l1.6 3.2h-3.2zM153.55 237.84l1.6 3.2h-3.2zM154.53 241.54l1.6 3.2h-3.2zM155.5 245.36l1.6 3.2h-3.2zM156.48 249.18l1.6 3.2h-3.2zM157.45 252.88l1.6 3.2h-3.2zM158.43 256.37l1.6 3.2h-3.2zM159.4 259.53l1.6 3.2h-3.2zM160.38 262.48l1.6 3.2h-3.2zM161.35 265.32l1.6 3.2h-3.2zM162.33 268.06l1.6 3.2h-3.2zM163.3 270.73l1.6 3.2h-3.2zM164.28 273.33l1.6 3.2h-3.2zM165.25 275.88l1.6 3.2h-3.2zM166.23 278.39l1.6 3.2h-3.2zM167.2 280.81l1.6 3.2h-3.2zM168.18 283.15l1.6 3.2h-3.2zM169.15 285.44l1.6 3.2h-3.2zM170.13 287.73l1.6 3.2h-3.2zM171.1 290.11l1.6 3.2h-3.2zM172.08 292.57l1.6 3.2h-3.2zM173.05 294.99l1.6 3.2h-3.2zM174.03 297.25l1.6 3.2h-3.2zM175 299.23l1.6 3.2h-3.2zM175.97 301.13l1.6 3.2h-3.2zM176.95 302.98l1.6 3.2h-3.2zM177.92 304.78l1.6 3.2h-3.2zM178.9 306.53l1.6 3.2h-3.2zM179.87 308.22l1.6 3.2h-3.2zM180.85 309.84l1.6 3.2h-3.2zM181.82 311.39l1.6 3.2h-3.2zM182.8 312.88l1.6 3.2h-3.2zM183.77 314.28l1.6 3.2h-3.2zM184.75 315.6l1.6 3.2h-3.2zM185.72 316.83l1.6 3.2h-3.2zM186.7 317.97l1.6 3.2h-3.2zM187.67 319.03l1.6 3.2h-3.2zM188.65 320.05l1.6 3.2h-3.2zM189.62 321.03l1.6 3.2h-3.2zM190.6 321.98l1.6 3.2h-3.2zM191.57 322.89l1.6 3.2h-3.2zM192.55 323.76l1.6 3.2h-3.2zM193.52 324.59l1.6 3.2h-3.2zM194.5 325.37l1.6 3.2h-3.2zM195.47 326.1l1.6 3.2h-3.2zM196.45 326.78l1.6 3.2h-3.2zM197.42 327.41l1.6 3.2h-3.2zM198.4 327.98l1.6 3.2h-3.2zM199.37 328.49l1.6 3.2h-3.2zM200.35 328.95l1.6 3.2h-3.2zM201.32 329.37l1.6 3.2h-3.2zM202.29 329.75l1.6 3.2h-3.2zM203.27 330.1l1.6 3.2h-3.2zM204.24 330.42l1.6 3.2h-3.2zM205.22 330.73l1.6 3.2h-3.2zM206.19 331.02l1.6 3.2h-3.2zM207.17 331.3l1.6 3.2h-3.2zM208.14 331.57l1.6 3.2h-3.2zM209.12 331.85l1.6 3.2h-3.2zM210.09 332.13l1.6 3.2h-3.2zM211.07 332.43l1.6 3.2h-3.2zM212.04 332.74l1.6 3.2h-3.2zM213.02 333.07l1.6 3.2h-3.2zM213.99 333.43l1.6 3.2h-3.2zM214.97 333.85l1.6 3.2h-3.2zM215.94 334.32l1.6 3.2h-3.2zM216.92 334.8l1.6 3.2h-3.2zM217.89 335.25l1.6 3.2h-3.2zM218.87 335.63l1.6 3.2h-3.2zM219.84 335.92l1.6 3.2h-3.2zM220.82 336.08l1.6 3.2h-3.2zM221.79 336.19l1.6 3.2h-3.2zM222.77 336.29l1.6 3.2h-3.2zM223.74 336.37l1.6 3.2h-3.2zM224.72 336.45l1.6 3.2h-3.2zM225.69 336.52l1.6 3.2h-3.2zM226.67 336.58l1.6 3.2h-3.2zM227.64 336.64l1.6 3.2h-3.2zM228.62 336.69l1.6 3.2h-3.2zM229.59 336.74l1.6 3.2h-3.2zM230.56 336.78l1.6 3.2h-3.2zM231.54 336.83l1.6 3.2h-3.2zM232.51 336.87l1.6 3.2h-3.2zM233.49 336.92l1.6 3.2h-3.2zM234.46 336.97l1.6 3.2h-3.2zM235.44 337.03l1.6 3.2h-3.2zM236.41 337.08l1.6 3.2h-3.2zM237.39 337.13l1.6 3.2h-3.2zM238.36 337.18l1.6 3.2h-3.2zM239.34 337.22l1.6 3.2h-3.2zM240.31 337.27l1.6 3.2h-3.2zM241.29 337.31l1.6 3.2h-3.2zM242.26 337.36l1.6 3.2h-3.2zM243.24 337.4l1.6 3.2h-3.2zM244.21 337.44l1.6 3.2h-3.2z" fill="#000" stroke="none" stroke-width="0"/>
<path d="M39.5 336.97l1.6 1.6l-1.6 1.6l-1.6 -1.6zM40.47 336.97l1.6 1.6l-1.6 1.6l-1.6 -1.6zM41.45 336.97l1.6 1.6l-1.6 1.6l-1.6 -1.6zM42.42 336.97l1.6 1.6l-1.6 1.6l-1.6 -1.6zM43.4 336.97l1.6 1.6l-1.6 1.6l-1.6 -1.6zM44.37 336.97l1.6 1.6l-1.6 1.6l-1.6 -1.6zM45.35 336.97l1.6 1.6l-1.6 1.6l-1.6 -1.6zM46.32 336.97l1.6 1.6l-1.6 1.6l-1.6 -1.6zM47.3 336.97l1.6 1.6l-1.6 1.6l-1.6 -1.6zM48.27 336.97l1.6 1.6l-1.6 1.6l-1.6 -1.6zM49.25 336.97l1.6 1.6l-1.6 1.6l-1.6 -1.6zM50.22 336.97l1.6 1.6l-1.6 1.6l-1.6 -1.6zM51.2 336.97l1.6 1.6l-1.6 1.6l-1.6 -1.6zM52.17 336.97l1.6 1.6l-1.6 1.6l-1.6 -1.6zM53.15 336.97l1.6 1.6l-1.6 1.6l-1.6 -1.6zM54.12 336.97l1.6 1.6l-1.6 1.6l-1.6 -1.6zM55.1 336.97l1.6 1.6l-1.6 1.6l-1.6 -1.6zM56.07 336.97l1.6 1.6l-1.6 1.6l-1.6 -1.6zM57.05 336.97l1.6 1.6l-1.6 1.6l-1.6 -1.6zM58.02 336.97l1.6 1.6l-1.6 1.6l-1.6 -1.6zM59 336.97l1.6 1.6l-1.6 1.6l-1.6 -1.6zM59.97 336.97l1.6 1.6l-1.6 1.6l-1.6 -1.6zM60.95 336.97l1.6 1.6l-1.6 1.6l-1.6 -1.6zM61.92 336.97l1.6 1.6l-1.6 1.6l-1.6 -1.6zM62.9 336.97l1.6 1.6l-1.6 1.6l-1.6 -1.6zM63.87 336.97l1.6 1.6l-1.6 1.6l-1.6 -1.6zM64.85 336.97l1.6 1.6l-1.6 1.6l-1.6 -1.6zM65.82 336.97l1.6 1.6l-1.6 1.6l-1.6 -1.6zM66.79 336.86l1.6 1.6l-1.6 1.6l-1.6 -1.6zM67.77 336.49l1.6 1.6l-1.6 1.6l-1.6 -1.6zM68.74 335.99l1.6 1.6l-1.6 1.6l-1.6 -1.6zM69.72 335.45l1.6 1.6l-1.6 1.6l-1.6 -1.6zM70.69 334.99l1.6 1.6l-1.6 1.6l-1.6 -1.6zM71.67 334.59l1.6 1.6l-1.6 1.6l-1.6 -1.6zM72.64 334.17l1.6 1.6l-1.6 1.6l-1.6 -1.6zM73.62 333.82l1.6 1.6l-1.6 1.6l-1.6 -1.6zM74.59 333.64l1.6 1.6l-1.6 1.6l-1.6 -1.6zM75.57 333.7l1.6 1.6l-1.6 1.6l-1.6 -1.6zM76.54 333.93l1.6 1.6l-1.6 1.6l-1.6 -1.6zM77.52 334.28l1.6 1.6l-1.6 1.6l-1.6 -1.6zM78.49 334.66l1.6 1.6l-1.6 1.6l-1.6 -1.6zM79.47 335.05l1.6 1.6l-1.6 1.6l-1.6 -1.6zM80.44 335.6l1.6 1.6l-1.6 1.6l-1.6 -1.6zM81.42 336.23l1.6 1.6l-1.6 1.6l-1.6 -1.6zM82.39 336.76l1.6 1.6l-1.6 1.6l-1.6 -1.6zM83.37 336.97l1.6 1.6l-1.6 1.6l-1.6 -1.6zM84.34 336.97l1.6 1.6l-1.6 1.6l-1.6 -1.6zM85.32 336.97l1.6 1.6l-1.6 1.6l-1.6 -1.6zM86.29 336.97l1.6 1.6l-1.6 1.6l-1.6 -1.6zM87.27 336.97l1.6 1.6l-1.6 1.6l-1.6 -1.6zM88.24 336.97l1.6 1.6l-1.6 1.6l-1.6 -1.6zM89.22 336.95l1.6 1.6l-1.6 1.6l-1.6 -1.6zM90.19 336.88l1.6 1.6l-1.6 1.6l-1.6 -1.6zM91.17 336.78l1.6 1.6l-1.6 1.6l-1.6 -1.6zM92.14 336.64l1.6 1.6l-1.6 1.6l-1.6 -1.6zM93.12 336.47l1.6 1.6l-1.6 1.6l-1.6 -1.6zM94.09 336.28l1.6 1.6l-1.6 1.6l-1.6 -1.6zM95.06 336.08l1.6 1.6l-1.6 1.6l-1.6 -1.6zM96.04 335.8l1.6 1.6l-1.6 1.6l-1.6 -1.6zM97.01 335.36l1.6 1.6l-1.6 1.6l-1.6 -1.6zM97.99 334.79l1.6 1.6l-1.6 1.6l-1.6 -1.6zM98.96 334.11l1.6 1.6l-1.6 1.6l-1.6 -1.6zM99.94 333.35l1.6 1.6l-1.6 1.6l-1.6 -1.6zM100.91 332.52l1.6 1.6l-1.6 1.6l-1.6 -1.6zM101.89 331.66l1.6 1.6l-1.6 1.6l-1.6 -1.6zM102.86 330.75l1.6 1.6l-1.6 1.6l-1.6 -1.6zM103.84 329.68l1.6 1.6l-1.6 1.6l-1.6 -1.6zM104.81 328.48l1.6 1.6l-1.6 1.6l-1.6 -1.6zM105.79 327.12l1.6 1.6l-1.6 1.6l-1.6 -1.6zM106.76 325.63l1.6 1.6l-1.6 1.6l-1.6 -1.6zM107.74 324l1.6 1.6l-1.6 1.6l-1.6 -1.6zM108.71 322.2l1.6 1.6l-1.6 1.6l-1.6 -1.6zM109.69 320.15l1.6 1.6l-1.6 1.6l-1.6 -1.6zM110.66 317.81l1.6 1.6l-1.6 1.6l-1.6 -1.6zM111.64 315.09l1.6 1.6l-1.6 1.6l-1.6 -1.6zM112.61 311.94l1.6 1.6l-1.6 1.6l-1.6 -1.6zM113.59 307.76l1.6 1.6l-1.6 1.6l-1.6 -1.6zM114.56 302.34l1.6 1.6l-1.6 1.6l-1.6 -1.6zM115.54 296.27l1.6 1.6l-1.6 1.6l-1.6 -1.6zM116.51 290.1l1.6 1.6l-1.6 1.6l-1.6 -1.6zM117.49 284.05l1.6 1.6l-1.6 1.6l-1.6 -1.6zM118.46 277.6l1.6 1.6l-1.6 1.6l-1.6 -1.6zM119.44 270.94l1.6 1.6l-1.6 1.6l-1.6 -1.6zM120.41 264.37l1.6 1.6l-1.6 1.6l-1.6 -1.6zM121.38 258.15l1.6 1.6l-1.6 1.6l-1.6 -1.6zM122.36 252.51l1.6 1.6l-1.6 1.6l-1.6 -1.6zM123.33 247.03l1.6 1.6l-1.6 1.6l-1.6 -1.6zM124.31 241.73l1.6 1.6l-1.6 1.6l-1.6 -1.6zM125.28 236.76l1.6 1.6l-1.6 1.6l-1.6 -1.6zM126.26 232.3l1.6 1.6l-1.6 1.6l-1.6 -1.6zM127.23 228.51l1.6 1.6l-1.6 1.6l-1.6 -1.6zM128.21 225.22l1.6 1.6l-1.6 1.6l-1.6 -1.6zM129.18 222.17l1.6 1.6l-1.6 1.6l-1.6 -1.6zM130.16 219.4l1.6 1.6l-1.6 1.6l-1.6 -1.6zM131.13 216.96l1.6 1.6l-1.6 1.6l-1.6 -1.6zM132.11 214.9l1.6 1.6l-1.6 1.6l-1.6 -1.6zM133.08 213.24l1.6 1.6l-1.6 1.6l-1.6 -1.6zM134.06 211.67l1.6 1.6l-1.6 1.6l-1.6 -1.6zM135.03 210.22l1.6 1.6l-1.6 1.6l-1.6 -1.6zM136.01 209.04l1.6 1.6l-1.6 1.6l-1.6 -1.6zM136.98 208.29l1.6 1.6l-1.6 1.6l-1.6 -1.6zM137.96 208.14l1.6 1.6l-1.6 1.6l-1.6 -1.6zM138.93 208.48l1.6 1.6l-1.6 1.6l-1.6 -1.6zM139.91 209.15l1.6 1.6l-1.6 1.6l-1.6 -1.6zM140.88 210.06l1.6 1.6l-1.6 1.6l-1.6 -1.6zM141.86 211.08l1.6 1.6l-1.6 1.6l-1.6 -1.6zM142.83 212.14l1.6 1.6l-1.6 1.6l-1.6 -1.6zM143.81 213.49l1.6 1.6l-1.6 1.6l-1.6 -1.6zM144.78 215.13l1.6 1.6l-1.6 1.6l-1.6 -1.6zM145.76 216.97l1.6 1.6l-1.6 1.6l-1.6 -1.6zM146.73 218.85l1.6 1.6l-1.6 1.6l-1.6 -1.6zM147.71 220.68l1.6 1.6l-1.6 1.6l-1.6 -1.6zM148.68 222.47l1.6 1.6l-1.6 1.6l-1.6 -1.6zM149.65 224.31l1.6 1.6l-1.6 1.6l-1.6 -1.6zM150.63 226.29l1.6 1.6l-1.6 1.6l-1.6 -1.6zM151.6 228.51l1.6 1.6l-1.6 1.6l-1.6 -1.6zM152.58 231.12l1.6 1.6l-1.6 1.6l-1.6 -1.6zM153.55 234.13l1.6 1.6l-1.6 1.6l-1.6 -1.6zM154.53 237.45l1.6 1.6l-1.6 1.6l-1.6 -1.6zM155.5 240.98l1.6 1.6l-1.6 1.6l-1.6 -1.6zM156.48 244.62l1.6 1.6l-1.6 1.6l-1.6 -1.6zM157.45 248.26l1.6 1.6l-1.6 1.6l-1.6 -1.6zM158.43 251.82l1.6 1.6l-1.6 1.6l-1.6 -1.6zM159.4 255.2l1.6 1.6l-1.6 1.6l-1.6 -1.6zM160.38 258.29l1.6 1.6l-1.6 1.6l-1.6 -1.6zM161.35 261.07l1.6 1.6l-1.6 1.6l-1.6 -1.6zM162.33 263.7l1.6 1.6l-1.6 1.6l-1.6 -1.6zM163.3 266.21l1.6 1.6l-1.6 1.6l-1.6 -1.6zM164.28 268.64l1.6 1.6l-1.6 1.6l-1.6 -1.6zM165.25 271.01l1.6 1.6l-1.6 1.6l-1.6 -1.6zM166.23 273.35l1.6 1.6l-1.6 1.6l-1.6 -1.6zM167.2 275.69l1.6 1.6l-1.6 1.6l-1.6 -1.6zM168.18 278.05l1.6 1.6l-1.6 1.6l-1.6 -1.6zM169.15 280.42l1.6 1.6l-1.6 1.6l-1.6 -1.6zM170.13 282.76l1.6 1.6l-1.6 1.6l-1.6 -1.6zM171.1 285.08l1.6 1.6l-1.6 1.6l-1.6 -1.6zM172.08 287.4l1.6 1.6l-1.6 1.6l-1.6 -1.6zM173.05 289.76l1.6 1.6l-1.6 1.6l-1.6 -1.6zM174.03 292.22l1.6 1.6l-1.6 1.6l-1.6 -1.6zM175 294.65l1.6 1.6l-1.6 1.6l-1.6 -1.6zM175.97 296.94l1.6 1.6l-1.6 1.6l-1.6 -1.6zM176.95 298.96l1.6 1.6l-1.6 1.6l-1.6 -1.6zM177.92 300.87l1.6 1.6l-1.6 1.6l-1.6 -1.6zM178.9 302.73l1.6 1.6l-1.6 1.6l-1.6 -1.6zM179.87 304.55l1.6 1.6l-1.6 1.6l-1.6 -1.6zM180.85 306.31l1.6 1.6l-1.6 1.6l-1.6 -1.6zM181.82 308.02l1.6 1.6l-1.6 1.6l-1.6 -1.6zM182.8 309.66l1.6 1.6l-1.6 1.6l-1.6 -1.6zM183.77 311.23l1.6 1.6l-1.6 1.6l-1.6 -1.6zM184.75 312.73l1.6 1.6l-1.6 1.6l-1.6 -1.6zM185.72 314.14l1.6 1.6l-1.6 1.6l-1.6 -1.6zM186.7 315.47l1.6 1.6l-1.6 1.6l-1.6 -1.6zM187.67 316.7l1.6 1.6l-1.6 1.6l-1.6 -1.6zM188.65 317.83l1.6 1.6l-1.6 1.6l-1.6 -1.6zM189.62 318.87l1.6 1.6l-1.6 1.6l-1.6 -1.6zM190.6 319.86l1.6 1.6l-1.6 1.6l-1.6 -1.6zM191.57 320.82l1.6 1.6l-1.6 1.6l-1.6 -1.6zM192.55 321.74l1.6 1.6l-1.6 1.6l-1.6 -1.6zM193.52 322.63l1.6 1.6l-1.6 1.6l-1.6 -1.6zM194.5 323.47l1.6 1.6l-1.6 1.6l-1.6 -1.6zM195.47 324.26l1.6 1.6l-1.6 1.6l-1.6 -1.6zM196.45 325l1.6 1.6l-1.6 1.6l-1.6 -1.6zM197.42 325.68l1.6 1.6l-1.6 1.6l-1.6 -1.6zM198.4 326.31l1.6 1.6l-1.6 1.6l-1.6 -1.6zM199.37 326.88l1.6 1.6l-1.6 1.6l-1.6 -1.6zM200.35 327.38l1.6 1.6l-1.6 1.6l-1.6 -1.6zM201.32 327.82l1.6 1.6l-1.6 1.6l-1.6 -1.6zM202.29 328.24l1.6 1.6l-1.6 1.6l-1.6 -1.6zM203.27 328.66l1.6 1.6l-1.6 1.6l-1.6 -1.6zM204.24 329.07l1.6 1.6l-1.6 1.6l-1.6 -1.6zM205.22 329.47l1.6 1.6l-1.6 1.6l-1.6 -1.6zM206.19 329.84l1.6 1.6l-1.6 1.6l-1.6 -1.6zM207.17 330.19l1.6 1.6l-1.6 1.6l-1.6 -1.6zM208.14 330.5l1.6 1.6l-1.6 1.6l-1.6 -1.6zM209.12 330.78l1.6 1.6l-1.6 1.6l-1.6 -1.6zM210.09 331.01l1.6 1.6l-1.6 1.6l-1.6 -1.6zM211.07 331.2l1.6 1.6l-1.6 1.6l-1.6 -1.6zM212.04 331.33l1.6 1.6l-1.6 1.6l-1.6 -1.6zM213.02 331.4l1.6 1.6l-1.6 1.6l-1.6 -1.6zM213.99 331.36l1.6 1.6l-1.6 1.6l-1.6 -1.6zM214.97 330.93l1.6 1.6l-1.6 1.6l-1.6 -1.6zM215.94 330.3l1.6 1.6l-1.6 1.6l-1.6 -1.6zM216.92 329.75l1.6 1.6l-1.6 1.6l-1.6 -1.6zM217.89 329.57l1.6 1.6l-1.6 1.6l-1.6 -1.6zM218.87 330.26l1.6 1.6l-1.6 1.6l-1.6 -1.6zM219.84 331.6l1.6 1.6l-1.6 1.6l-1.6 -1.6zM220.82 333.06l1.6 1.6l-1.6 1.6l-1.6 -1.6zM221.79 334.11l1.6 1.6l-1.6 1.6l-1.6 -1.6zM222.77 334.61l1.6 1.6l-1.6 1.6l-1.6 -1.6zM223.74 335.03l1.6 1.6l-1.6 1.6l-1.6 -1.6zM224.72 335.38l1.6 1.6l-1.6 1.6l-1.6 -1.6zM225.69 335.67l1.6 1.6l-1.6 1.6l-1.6 -1.6zM226.67 335.9l1.6 1.6l-1.6 1.6l-1.6 -1.6zM227.64 336.07l1.6 1.6l-1.6 1.6l-1.6 -1.6zM228.62 336.21l1.6 1.6l-1.6 1.6l-1.6 -1.6zM229.59 336.34l1.6 1.6l-1.6 1.6l-1.6 -1.6zM230.56 336.47l1.6 1.6l-1.6 1.6l-1.6 -1.6zM231.54 336.59l1.6 1.6l-1.6 1.6l-1.6 -1.6zM232.51 336.71l1.6 1.6l-1.6 1.6l-1.6 -1.6zM233.49 336.82l1.6 1.6l-1.6 1.6l-1.6 -1.6zM234.46 336.92l1.6 1.6l-1.6 1.6l-1.6 -1.6zM235.44 337.01l1.6 1.6l-1.6 1.6l-1.6 -1.6zM236.41 337.1l1.6 1.6l-1.6 1.6l-1.6 -1.6zM237.39 337.17l1.6 1.6l-1.6 1.6l-1.6 -1.6zM238.36 337.24l1.6 1.6l-1.6 1.6l-1.6 -1.6zM239.34 337.3l1.6 1.6l-1.6 1.6l-1.6 -1.6zM240.31 337.35l1.6 1.6l-1.6 1.6l-1.6 -1.6zM241.29 337.39l1.6 1.6l-1.6 1.6l-1.6 -1.6zM242.26 337.41l1.6 1.6l-1.6 1.6l-1.6 -1.6zM243.24 337.43l1.6 1.6l-1.6 1.6l-1.6 -1.6zM244.21 337.44l1.6 1.6l-1.6 1.6l-1.6 -1.6z" fill="#000" stroke="none" stroke-width="0"/>
<path d="M39.5 336.97l1.6 3.2h-3.2zM40.47 336.97l1.6 3.2h-3.2zM41.45 336.97l1.6 3.2h-3.2zM42.42 336.97l1.6 3.2h-3.2zM43.4 336.97l1.6 3.2h-3.2zM44.37 336.97l1.6 3.2h-3.2zM45.35 336.97l1.6 3.2h-3.2zM46.32 336.97l1.6 3.2h-3.2zM47.3 336.97l1.6 3.2h-3.2zM48.27 336.97l1.6 3.2h-3.2zM49.25 336.97l1.6 3.2h-3.2zM50.22 336.97l1.6 3.2h-3.2zM51.2 336.97l1.6 3.2h-3.2zM52.17 336.97l1.6 3.2h-3.2zM53.15 336.97l1.6 3.2h-3.2zM54.12 336.97l1.6 3.2h-3.2zM55.1 336.97l1.6 3.2h-3.2zM56.07 336.97l1.6 3.2h-3.2zM57.05 336.97l1.6 3.2h-3.2zM58.02 336.97l1.6 3.2h-3.2zM59 336.97l1.6 3.2h-3.2zM59.97 336.97l1.6 3.2h-3.2zM60.95 336.97l1.6 3.2h-3.2zM61.92 336.97l1.6 3.2h-3.2zM62.9 336.97l1.6 3.2h-3.2zM63.87 336.97l1.6 3.2h-3.2zM64.85 336.97l1.6 3.2h-3.2zM65.82 336.97l1.6 3.2h-3.2zM66.79 336.85l1.6 3.2h-3.2zM67.77 336.47l1.6 3.2h-3.2zM68.74 335.94l1.6 3.2h-3.2zM69.72 335.38l1.6 3.2h-3.2zM70.69 334.9l1.6 3.2h-3.2zM71.67 334.48l1.6 3.2h-3.2zM72.64 334.03l1.6 3.2h-3.2zM73.62 333.65l1.6 3.2h-3.2zM74.59 333.46l1.6 3.2h-3.2zM75.57 333.52l1.6 3.2h-3.2zM76.54 333.77l1.6 3.2h-3.2zM77.52 334.14l1.6 3.2h-3.2zM78.49 334.55l1.6 3.2h-3.2zM79.47 334.96l1.6 3.2h-3.2zM80.44 335.54l1.6 3.2h-3.2zM81.42 336.2l1.6 3.2h-3.2zM82.39 336.75l1.6 3.2h-3.2zM83.37 336.97l1.6 3.2h-3.2zM84.34 336.97l1.6 3.2h-3.2zM85.32 336.97l1.6 3.2h-3.2zM86.29 336.97l1.6 3.2h-3.2zM87.27 336.97l1.6 3.2h-3.2zM88.24 336.97l1.6 3.2h-3.2zM89.22 336.95l1.6 3.2h-3.2zM90.19 336.88l1.6 3.2h-3.2zM91.17 336.77l1.6 3.2h-3.2zM92.14 336.64l1.6 3.2h-3.2zM93.12 336.47l1.6 3.2h-3.2zM94.09 336.28l1.6 3.2h-3.2zM95.06 336.08l1.6 3.2h-3.2zM96.04 335.81l1.6 3.2h-3.2zM97.01 335.41l1.6 3.2h-3.2zM97.99 334.89l1.6 3.2h-3.2zM98.96 334.28l1.6 3.2h-3.2zM99.94 333.6l1.6 3.2h-3.2zM100.91 332.87l1.6 3.2h-3.2zM101.89 332.1l1.6 3.2h-3.2zM102.86 331.29l1.6 3.2h-3.2zM103.84 330.38l1.6 3.2h-3.2zM104.81 329.35l1.6 3.2h-3.2zM105.79 328.19l1.6 3.2h-3.2zM106.76 326.9l1.6 3.2h-3.2zM107.74 325.47l1.6 3.2h-3.2zM108.71 323.84l1.6 3.2h-3.2zM109.69 321.87l1.6 3.2h-3.2zM110.66 319.59l1.6 3.2h-3.2zM111.64 317.03l1.6 3.2h-3.2zM112.61 314.24l1.6 3.2h-3.2zM113.59 311.24l1.6 3.2h-3.2zM114.56 307.92l1.6 3.2h-3.2zM115.54 304.14l1.6 3.2h-3.2zM116.51 299.94l1.6 3.2h-3.2zM117.49 295.39l1.6 3.2h-3.2zM118.46 290.55l1.6 3.2h-3.2zM119.44 285.31l1.6 3.2h-3.2zM120.41 279.17l1.6 3.2h-3.2zM121.38 272.45l1.6 3.2h-3.2zM122.36 265.61l1.6 3.2h-3.2zM123.33 259.09l1.6 3.2h-3.2zM124.31 253.29l1.6 3.2h-3.2zM125.28 247.87l1.6 3.2h-3.2zM126.26 242.62l1.6 3.2h-3.2zM127.23 237.66l1.6 3.2h-3.2zM128.21 233.1l1.6 3.2h-3.2zM129.18 229.04l1.6 3.2h-3.2zM130.16 225.4l1.6 3.2h-3.2zM131.13 221.93l1.6 3.2h-3.2zM132.11 218.77l1.6 3.2h-3.2zM133.08 216.06l1.6 3.2h-3.2zM134.06 213.93l1.6 3.2h-3.2zM135.03 212.23l1.6 3.2h-3.2zM136.01 210.64l1.6 3.2h-3.2zM136.98 209.37l1.6 3.2h-3.2zM137.96 208.66l1.6 3.2h-3.2zM138.93 208.67l1.6 3.2h-3.2zM139.91 209.18l1.6 3.2h-3.2zM140.88 210.03l1.6 3.2h-3.2zM141.86 211.1l1.6 3.2h-3.2zM142.83 212.26l1.6 3.2h-3.2zM143.81 213.49l1.6 3.2h-3.2zM144.78 215.11l1.6 3.2h-3.2zM145.76 216.98l1.6 3.2h-3.2zM146.73 218.89l1.6 3.2h-3.2zM147.71 220.65l1.6 3.2h-3.2zM148.68 222.22l1.6 3.2h-3.2zM149.65 223.74l1.6 3.2h-3.2zM150.63 225.31l1.6 3.2h-3.2zM151.6 227.07l1.6 3.2h-3.2zM152.58 229.15l1.6 3.2h-3.2zM153.55 231.73l1.6 3.2h-3.2zM154.53 234.76l1.6 3.2h-3.2zM155.5 238.13l1.6 3.2h-3.2zM156.48 241.73l1.6 3.2h-3.2zM157.45 245.44l1.6 3.2h-3.2zM158.43 249.15l1.6 3.2h-3.2zM159.4 252.73l1.6 3.2h-3.2zM160.38 256.09l1.6 3.2h-3.2zM161.35 259.1l1.6 3.2h-3.2zM162.33 261.84l1.6 3.2h-3.2zM163.3 264.46l1.6 3.2h-3.2zM164.28 266.99l1.6 3.2h-3.2zM165.25 269.43l1.6 3.2h-3.2zM166.23 271.8l1.6 3.2h-3.2zM167.2 274.13l1.6 3.2h-3.2zM168.18 276.43l1.6 3.2h-3.2zM169.15 278.71l1.6 3.2h-3.2zM170.13 280.91l1.6 3.2h-3.2zM171.1 283.04l1.6 3.2h-3.2zM172.08 285.15l1.6 3.2h-3.2zM173.05 287.29l1.6 3.2h-3.2zM174.03 289.55l1.6 3.2h-3.2zM175 291.99l1.6 3.2h-3.2zM175.97 294.46l1.6 3.2h-3.2zM176.95 296.79l1.6 3.2h-3.2zM177.92 298.82l1.6 3.2h-3.2zM178.9 300.69l1.6 3.2h-3.2zM179.87 302.52l1.6 3.2h-3.2zM180.85 304.3l1.6 3.2h-3.2zM181.82 306.02l1.6 3.2h-3.2zM182.8 307.68l1.6 3.2h-3.2zM183.77 309.29l1.6 3.2h-3.2zM184.75 310.82l1.6 3.2h-3.2zM185.72 312.29l1.6 3.2h-3.2zM186.7 313.68l1.6 3.2h-3.2zM187.67 314.99l1.6 3.2h-3.2zM188.65 316.23l1.6 3.2h-3.2zM189.62 317.37l1.6 3.2h-3.2zM190.6 318.43l1.6 3.2h-3.2zM191.57 319.43l1.6 3.2h-3.2zM192.55 320.38l1.6 3.2h-3.2zM193.52 321.3l1.6 3.2h-3.2zM194.5 322.17l1.6 3.2h-3.2zM195.47 323l1.6 3.2h-3.2zM196.45 323.79l1.6 3.2h-3.2zM197.42 324.53l1.6 3.2h-3.2zM198.4 325.23l1.6 3.2h-3.2zM199.37 325.88l1.6 3.2h-3.2zM200.35 326.47l1.6 3.2h-3.2zM201.32 327.02l1.6 3.2h-3.2zM202.29 327.53l1.6 3.2h-3.2zM203.27 328.05l1.6 3.2h-3.2zM204.24 328.57l1.6 3.2h-3.2zM205.22 329.07l1.6 3.2h-3.2zM206.19 329.52l1.6 3.2h-3.2zM207.17 329.91l1.6 3.2h-3.2zM208.14 330.22l1.6 3.2h-3.2zM209.12 330.41l1.6 3.2h-3.2zM210.09 330.48l1.6 3.2h-3.2zM211.07 330.33l1.6 3.2h-3.2zM212.04 329.96l1.6 3.2h-3.2zM213.02 329.49l1.6 3.2h-3.2zM213.99 329.03l1.6 3.2h-3.2zM214.97 328.71l1.6 3.2h-3.2zM215.94 328.67l1.6 3.2h-3.2zM216.92 329.27l1.6 3.2h-3.2zM217.89 330.37l1.6 3.2h-3.2zM218.87 331.64l1.6 3.2h-3.2zM219.84 332.75l1.6 3.2h-3.2zM220.82 333.41l1.6 3.2h-3.2zM221.79 333.89l1.6 3.2h-3.2zM222.77 334.35l1.6 3.2h-3.2zM223.74 334.76l1.6 3.2h-3.2zM224.72 335.11l1.6 3.2h-3.2zM225.69 335.37l1.6 3.2h-3.2zM226.67 335.54l1.6 3.2h-3.2zM227.64 335.58l1.6 3.2h-3.2zM228.62 335.56l1.6 3.2h-3.2zM229.59 335.51l1.6 3.2h-3.2zM230.56 335.44l1.6 3.2h-3.2zM231.54 335.36l1.6 3.2h-3.2zM232.51 335.28l1.6 3.2h-3.2zM233.49 335.21l1.6 3.2h-3.2zM234.46 335.15l1.6 3.2h-3.2zM235.44 335.12l1.6 3.2h-3.2zM236.41 335.13l1.6 3.2h-3.2zM237.39 335.22l1.6 3.2h-3.2zM238.36 335.39l1.6 3.2h-3.2zM239.34 335.62l1.6 3.2h-3.2zM240.31 335.9l1.6 3.2h-3.2zM241.29 336.24l1.6 3.2h-3.2zM242.26 336.61l1.6 3.2h-3.2zM243.24 337.01l1.6 3.2h-3.2zM244.21 337.44l1.6 3.2h-3.2z" fill="#000" stroke="none" stroke-width="0"/>
<path d="M39.5 336.97l1.6 1.6l-1.6 1.6l-1.6 -1.6zM40.47 336.97l1.6 1.6l-1.6 1.6l-1.6 -1.6zM41.45 336.97l1.6 1.6l-1.6 1.6l-1.6 -1.6zM42.42 336.97l1.6 1.6l-1.6 1.6l-1.6 -1.6zM43.4 336.97l1.6 1.6l-1.6 1.6l-1.6 -1.6zM44.37 336.97l1.6 1.6l-1.6 1.6l-1.6 -1.6zM45.35 336.97l1.6 1.6l-1.6 1.6l-1.6 -1.6zM46.32 336.97l1.6 1.6l-1.6 1.6l-1.6 -1.6zM47.3 336.97l1.6 1.6l-1.6 1.6l-1.6 -1.6zM48.27 336.97l1.6 1.6l-1.6 1.6l-1.6 -1.6zM49.25 336.97l1.6 1.6l-1.6 1.6l-1.6 -1.6zM50.22 336.97l1.6 1.6l-1.6 1.6l-1.6 -1.6zM51.2 336.97l1.6 1.6l-1.6 1.6l-1.6 -1.6zM52.17 336.97l1.6 1.6l-1.6 1.6l-1.6 -1.6zM53.15 336.97l1.6 1.6l-1.6 1.6l-1.6 -1.6zM54.12 336.97l1.6 1.6l-1.6 1.6l-1.6 -1.6zM55.1 336.97l1.6 1.6l-1.6 1.6l-1.6 -1.6zM56.07 336.97l1.6 1.6l-1.6 1.6l-1.6 -1.6zM57.05 336.97l1.6 1.6l-1.6 1.6l-1.6 -1.6zM58.02 336.97l1.6 1.6l-1.6 1.6l-1.6 -1.6zM59 336.97l1.6 1.6l-1.6 1.6l-1.6 -1.6zM59.97 336.97l1.6 1.6l-1.6 1.6l-1.6 -1.6zM60.95 336.97l1.6 1.6l-1.6 1.6l-1.6 -1.6zM61.92 336.97l1.6 1.6l-1.6 1.6l-1.6 -1.6zM62.9 336.97l1.6 1.6l-1.6 1.6l-1.6 -1.6zM63.87 336.97l1.6 1.6l-1.6 1.6l-1.6 -1.6zM64.85 336.97l1.6 1.6l-1.6 1.6l-1.6 -1.6zM65.82 336.97l1.6 1.6l-1.6 1.6l-1.6 -1.6zM66.79 336.84l1.6 1.6l-1.6 1.6l-1.6 -1.6zM67.77 336.42l1.6 1.6l-1.6 1.6l-1.6 -1.6zM68.74 335.84l1.6 1.6l-1.6 1.6l-1.6 -1.6zM69.72 335.23l1.6 1.6l-1.6 1.6l-1.6 -1.6zM70.69 334.71l1.6 1.6l-1.6 1.6l-1.6 -1.6zM71.67 334.29l1.6 1.6l-1.6 1.6l-1.6 -1.6zM72.64 333.84l1.6 1.6l-1.6 1.6l-1.6 -1.6zM73.62 333.46l1.6 1.6l-1.6 1.6l-1.6 -1.6zM74.59 333.27l1.6 1.6l-1.6 1.6l-1.6 -1.6zM75.57 333.33l1.6 1.6l-1.6 1.6l-1.6 -1.6zM76.54 333.58l1.6 1.6l-1.6 1.6l-1.6 -1.6zM77.52 333.94l1.6 1.6l-1.6 1.6l-1.6 -1.6zM78.49 334.36l1.6 1.6l-1.6 1.6l-1.6 -1.6zM79.47 334.78l1.6 1.6l-1.6 1.6l-1.6 -1.6zM80.44 335.4l1.6 1.6l-1.6 1.6l-1.6 -1.6zM81.42 336.13l1.6 1.6l-1.6 1.6l-1.6 -1.6zM82.39 336.72l1.6 1.6l-1.6 1.6l-1.6 -1.6zM83.37 336.97l1.6 1.6l-1.6 1.6l-1.6 -1.6zM84.34 336.97l1.6 1.6l-1.6 1.6l-1.6 -1.6zM85.32 336.97l1.6 1.6l-1.6 1.6l-1.6 -1.6zM86.29 336.97l1.6 1.6l-1.6 1.6l-1.6 -1.6zM87.27 336.97l1.6 1.6l-1.6 1.6l-1.6 -1.6zM88.24 336.97l1.6 1.6l-1.6 1.6l-1.6 -1.6zM89.22 336.95l1.6 1.6l-1.6 1.6l-1.6 -1.6zM90.19 336.88l1.6 1.6l-1.6 1.6l-1.6 -1.6zM91.17 336.77l1.6 1.6l-1.6 1.6l-1.6 -1.6zM92.14 336.63l1.6 1.6l-1.6 1.6l-1.6 -1.6zM93.12 336.46l1.6 1.6l-1.6 1.6l-1.6 -1.6zM94.09 336.28l1.6 1.6l-1.6 1.6l-1.6 -1.6zM95.06 336.08l1.6 1.6l-1.6 1.6l-1.6 -1.6zM96.04 335.82l1.6 1.6l-1.6 1.6l-1.6 -1.6zM97.01 335.46l1.6 1.6l-1.6 1.6l-1.6 -1.6zM97.99 335l1.6 1.6l-1.6 1.6l-1.6 -1.6zM98.96 334.46l1.6 1.6l-1.6 1.6l-1.6 -1.6zM99.94 333.86l1.6 1.6l-1.6 1.6l-1.6 -1.6zM100.91 333.21l1.6 1.6l-1.6 1.6l-1.6 -1.6zM101.89 332.53l1.6 1.6l-1.6 1.6l-1.6 -1.6zM102.86 331.83l1.6 1.6l-1.6 1.6l-1.6 -1.6zM103.84 331.04l1.6 1.6l-1.6 1.6l-1.6 -1.6zM104.81 330.17l1.6 1.6l-1.6 1.6l-1.6 -1.6zM105.79 329.18l1.6 1.6l-1.6 1.6l-1.6 -1.6zM106.76 328.07l1.6 1.6l-1.6 1.6l-1.6 -1.6zM107.74 326.83l1.6 1.6l-1.6 1.6l-1.6 -1.6zM108.71 325.42l1.6 1.6l-1.6 1.6l-1.6 -1.6zM109.69 323.62l1.6 1.6l-1.6 1.6l-1.6 -1.6zM110.66 321.42l1.6 1.6l-1.6 1.6l-1.6 -1.6zM111.64 318.92l1.6 1.6l-1.6 1.6l-1.6 -1.6zM112.61 316.2l1.6 1.6l-1.6 1.6l-1.6 -1.6zM113.59 313.36l1.6 1.6l-1.6 1.6l-1.6 -1.6zM114.56 310.5l1.6 1.6l-1.6 1.6l-1.6 -1.6zM115.54 307.65l1.6 1.6l-1.6 1.6l-1.6 -1.6zM116.51 304.73l1.6 1.6l-1.6 1.6l-1.6 -1.6zM117.49 301.68l1.6 1.6l-1.6 1.6l-1.6 -1.6zM118.46 298.39l1.6 1.6l-1.6 1.6l-1.6 -1.6zM119.44 294.82l1.6 1.6l-1.6 1.6l-1.6 -1.6zM120.41 290.86l1.6 1.6l-1.6 1.6l-1.6 -1.6zM121.38 286.34l1.6 1.6l-1.6 1.6l-1.6 -1.6zM122.36 280.57l1.6 1.6l-1.6 1.6l-1.6 -1.6zM123.33 273.88l1.6 1.6l-1.6 1.6l-1.6 -1.6zM124.31 266.86l1.6 1.6l-1.6 1.6l-1.6 -1.6zM125.28 260.07l1.6 1.6l-1.6 1.6l-1.6 -1.6zM126.26 254.08l1.6 1.6l-1.6 1.6l-1.6 -1.6zM127.23 248.69l1.6 1.6l-1.6 1.6l-1.6 -1.6zM128.21 243.52l1.6 1.6l-1.6 1.6l-1.6 -1.6zM129.18 238.6l1.6 1.6l-1.6 1.6l-1.6 -1.6zM130.16 233.97l1.6 1.6l-1.6 1.6l-1.6 -1.6zM131.13 229.68l1.6 1.6l-1.6 1.6l-1.6 -1.6zM132.11 225.61l1.6 1.6l-1.6 1.6l-1.6 -1.6zM133.08 221.58l1.6 1.6l-1.6 1.6l-1.6 -1.6zM134.06 217.91l1.6 1.6l-1.6 1.6l-1.6 -1.6zM135.03 214.94l1.6 1.6l-1.6 1.6l-1.6 -1.6zM136.01 212.88l1.6 1.6l-1.6 1.6l-1.6 -1.6zM136.98 211.09l1.6 1.6l-1.6 1.6l-1.6 -1.6zM137.96 209.7l1.6 1.6l-1.6 1.6l-1.6 -1.6zM138.93 209.06l1.6 1.6l-1.6 1.6l-1.6 -1.6zM139.91 209.26l1.6 1.6l-1.6 1.6l-1.6 -1.6zM140.88 209.96l1.6 1.6l-1.6 1.6l-1.6 -1.6zM141.86 211.01l1.6 1.6l-1.6 1.6l-1.6 -1.6zM142.83 212.24l1.6 1.6l-1.6 1.6l-1.6 -1.6zM143.81 213.51l1.6 1.6l-1.6 1.6l-1.6 -1.6zM144.78 214.9l1.6 1.6l-1.6 1.6l-1.6 -1.6zM145.76 216.65l1.6 1.6l-1.6 1.6l-1.6 -1.6zM146.73 218.55l1.6 1.6l-1.6 1.6l-1.6 -1.6zM147.71 220.38l1.6 1.6l-1.6 1.6l-1.6 -1.6zM148.68 221.97l1.6 1.6l-1.6 1.6l-1.6 -1.6zM149.65 223.35l1.6 1.6l-1.6 1.6l-1.6 -1.6zM150.63 224.67l1.6 1.6l-1.6 1.6l-1.6 -1.6zM151.6 226.07l1.6 1.6l-1.6 1.6l-1.6 -1.6zM152.58 227.71l1.6 1.6l-1.6 1.6l-1.6 -1.6zM153.55 229.75l1.6 1.6l-1.6 1.6l-1.6 -1.6zM154.53 232.39l1.6 1.6l-1.6 1.6l-1.6 -1.6zM155.5 235.53l1.6 1.6l-1.6 1.6l-1.6 -1.6zM156.48 239.02l1.6 1.6l-1.6 1.6l-1.6 -1.6zM157.45 242.73l1.6 1.6l-1.6 1.6l-1.6 -1.6zM158.43 246.53l1.6 1.6l-1.6 1.6l-1.6 -1.6zM159.4 250.27l1.6 1.6l-1.6 1.6l-1.6 -1.6zM160.38 253.83l1.6 1.6l-1.6 1.6l-1.6 -1.6zM161.35 257.07l1.6 1.6l-1.6 1.6l-1.6 -1.6zM162.33 259.86l1.6 1.6l-1.6 1.6l-1.6 -1.6zM163.3 262.38l1.6 1.6l-1.6 1.6l-1.6 -1.6zM164.28 264.74l1.6 1.6l-1.6 1.6l-1.6 -1.6zM165.25 266.98l1.6 1.6l-1.6 1.6l-1.6 -1.6zM166.23 269.14l1.6 1.6l-1.6 1.6l-1.6 -1.6zM167.2 271.26l1.6 1.6l-1.6 1.6l-1.6 -1.6zM168.18 273.37l1.6 1.6l-1.6 1.6l-1.6 -1.6zM169.15 275.52l1.6 1.6l-1.6 1.6l-1.6 -1.6zM170.13 277.74l1.6 1.6l-1.6 1.6l-1.6 -1.6zM171.1 280.04l1.6 1.6l-1.6 1.6l-1.6 -1.6zM172.08 282.37l1.6 1.6l-1.6 1.6l-1.6 -1.6zM173.05 284.71l1.6 1.6l-1.6 1.6l-1.6 -1.6zM174.03 287.06l1.6 1.6l-1.6 1.6l-1.6 -1.6zM175 289.42l1.6 1.6l-1.6 1.6l-1.6 -1.6zM175.97 291.88l1.6 1.6l-1.6 1.6l-1.6 -1.6zM176.95 294.34l1.6 1.6l-1.6 1.6l-1.6 -1.6zM177.92 296.66l1.6 1.6l-1.6 1.6l-1.6 -1.6zM178.9 298.68l1.6 1.6l-1.6 1.6l-1.6 -1.6zM179.87 300.53l1.6 1.6l-1.6 1.6l-1.6 -1.6zM180.85 302.33l1.6 1.6l-1.6 1.6l-1.6 -1.6zM181.82 304.09l1.6 1.6l-1.6 1.6l-1.6 -1.6zM182.8 305.78l1.6 1.6l-1.6 1.6l-1.6 -1.6zM183.77 307.42l1.6 1.6l-1.6 1.6l-1.6 -1.6zM184.75 308.99l1.6 1.6l-1.6 1.6l-1.6 -1.6zM185.72 310.5l1.6 1.6l-1.6 1.6l-1.6 -1.6zM186.7 311.95l1.6 1.6l-1.6 1.6l-1.6 -1.6zM187.67 313.32l1.6 1.6l-1.6 1.6l-1.6 -1.6zM188.65 314.61l1.6 1.6l-1.6 1.6l-1.6 -1.6zM189.62 315.83l1.6 1.6l-1.6 1.6l-1.6 -1.6zM190.6 316.96l1.6 1.6l-1.6 1.6l-1.6 -1.6zM191.57 318.01l1.6 1.6l-1.6 1.6l-1.6 -1.6zM192.55 318.98l1.6 1.6l-1.6 1.6l-1.6 -1.6zM193.52 319.9l1.6 1.6l-1.6 1.6l-1.6 -1.6zM194.5 320.78l1.6 1.6l-1.6 1.6l-1.6 -1.6zM195.47 321.62l1.6 1.6l-1.6 1.6l-1.6 -1.6zM196.45 322.42l1.6 1.6l-1.6 1.6l-1.6 -1.6zM197.42 323.17l1.6 1.6l-1.6 1.6l-1.6 -1.6zM198.4 323.89l1.6 1.6l-1.6 1.6l-1.6 -1.6zM199.37 324.56l1.6 1.6l-1.6 1.6l-1.6 -1.6zM200.35 325.19l1.6 1.6l-1.6 1.6l-1.6 -1.6zM201.32 325.78l1.6 1.6l-1.6 1.6l-1.6 -1.6zM202.29 326.34l1.6 1.6l-1.6 1.6l-1.6 -1.6zM203.27 326.85l1.6 1.6l-1.6 1.6l-1.6 -1.6zM204.24 327.37l1.6 1.6l-1.6 1.6l-1.6 -1.6zM205.22 327.9l1.6 1.6l-1.6 1.6l-1.6 -1.6zM206.19 328.41l1.6 1.6l-1.6 1.6l-1.6 -1.6zM207.17 328.86l1.6 1.6l-1.6 1.6l-1.6 -1.6zM208.14 329.23l1.6 1.6l-1.6 1.6l-1.6 -1.6zM209.12 329.47l1.6 1.6l-1.6 1.6l-1.6 -1.6zM210.09 329.56l1.6 1.6l-1.6 1.6l-1.6 -1.6zM211.07 329.3l1.6 1.6l-1.6 1.6l-1.6 -1.6zM212.04 328.67l1.6 1.6l-1.6 1.6l-1.6 -1.6zM213.02 327.86l1.6 1.6l-1.6 1.6l-1.6 -1.6zM213.99 327.09l1.6 1.6l-1.6 1.6l-1.6 -1.6zM214.97 326.54l1.6 1.6l-1.6 1.6l-1.6 -1.6zM215.94 326.45l1.6 1.6l-1.6 1.6l-1.6 -1.6zM216.92 327.23l1.6 1.6l-1.6 1.6l-1.6 -1.6zM217.89 328.65l1.6 1.6l-1.6 1.6l-1.6 -1.6zM218.87 330.28l1.6 1.6l-1.6 1.6l-1.6 -1.6zM219.84 331.69l1.6 1.6l-1.6 1.6l-1.6 -1.6zM220.82 332.51l1.6 1.6l-1.6 1.6l-1.6 -1.6zM221.79 333.1l1.6 1.6l-1.6 1.6l-1.6 -1.6zM222.77 333.65l1.6 1.6l-1.6 1.6l-1.6 -1.6zM223.74 334.14l1.6 1.6l-1.6 1.6l-1.6 -1.6zM224.72 334.55l1.6 1.6l-1.6 1.6l-1.6 -1.6zM225.69 334.87l1.6 1.6l-1.6 1.6l-1.6 -1.6zM226.67 335.06l1.6 1.6l-1.6 1.6l-1.6 -1.6zM227.64 335.12l1.6 1.6l-1.6 1.6l-1.6 -1.6zM228.62 335.07l1.6 1.6l-1.6 1.6l-1.6 -1.6zM229.59 334.97l1.6 1.6l-1.6 1.6l-1.6 -1.6zM230.56 334.84l1.6 1.6l-1.6 1.6l-1.6 -1.6zM231.54 334.68l1.6 1.6l-1.6 1.6l-1.6 -1.6zM232.51 334.52l1.6 1.6l-1.6 1.6l-1.6 -1.6zM233.49 334.37l1.6 1.6l-1.6 1.6l-1.6 -1.6zM234.46 334.26l1.6 1.6l-1.6 1.6l-1.6 -1.6zM235.44 334.2l1.6 1.6l-1.6 1.6l-1.6 -1.6zM236.41 334.26l1.6 1.6l-1.6 1.6l-1.6 -1.6zM237.39 334.64l1.6 1.6l-1.6 1.6l-1.6 -1.6zM238.36 335.23l1.6 1.6l-1.6 1.6l-1.6 -1.6zM239.34 335.9l1.6 1.6l-1.6 1.6l-1.6 -1.6zM240.31 336.52l1.6 1.6l-1.6 1.6l-1.6 -1.6zM241.29 336.94l1.6 1.6l-1.6 1.6l-1.6 -1.6zM242.26 337.16l1.6 1.6l-1.6 1.6l-1.6 -1.6zM243.24 337.34l1.6 1.6l-1.6 1.6l-1.6 -1.6zM244.21 337.44l1.6 1.6l-1.6 1.6l-1.6 -1.6z" fill="#000" stroke="none" stroke-width="0"/>
<line x1="39.5" y1="338.7" x2="102.17" y2="338.7" stroke="#000" stroke-width="2.4"/>
<path d="M64.57 339.04 L68.74 337.46 L72.23 335.61 L74.8 335.14 L77.8 335.61 L81.28 337.18 L85.46 339.04Z" fill="#000" stroke="#000" stroke-width="1.2" stroke-linejoin="round"/>
<rect x="318.7" y="250.5" width="4.13" height="81.3" fill="#fff" stroke="#a0a0a0" stroke-width="0.6"/>
<line x1="320.76" y1="244.16" x2="320.76" y2="250.5" stroke="#999" stroke-width="0.7"/>
<line x1="319.66" y1="244.16" x2="321.86" y2="244.16" stroke="#888" stroke-width="0.9"/>
<rect x="322.82" y="250.5" width="4.13" height="81.3" fill="#d6d6d6" stroke="#a0a0a0" stroke-width="0.6"/>
<line x1="324.89" y1="248.06" x2="324.89" y2="250.5" stroke="#999" stroke-width="0.7"/>
<line x1="323.79" y1="248.06" x2="325.99" y2="248.06" stroke="#888" stroke-width="0.9"/>
<rect x="326.95" y="250.09" width="4.13" height="81.71" fill="#000" stroke="none" stroke-width="0"/>
<line x1="329.01" y1="242.37" x2="329.01" y2="250.09" stroke="#999" stroke-width="0.7"/>
<line x1="327.91" y1="242.37" x2="330.11" y2="242.37" stroke="#888" stroke-width="0.9"/>
<rect x="331.08" y="250.5" width="4.13" height="81.3" fill="#fff" stroke="#555" stroke-width="0.6"/>
<path d="M331.08 243.2L335.2 250.2M331.08 251.5L335.2 258.5M331.08 259.8L335.2 266.8M331.08 268.1L335.2 275.1M331.08 276.4L335.2 283.4M331.08 284.7L335.2 291.7M331.08 293L335.2 300M331.08 301.3L335.2 308.3M331.08 309.6L335.2 316.6M331.08 317.9L335.2 324.9M331.08 326.2L335.2 333.2" stroke="#333" stroke-width="0.65" fill="none" clip-path="url(#h0)"/>
<line x1="333.14" y1="246.44" x2="333.14" y2="250.5" stroke="#999" stroke-width="0.7"/>
<line x1="332.04" y1="246.44" x2="334.24" y2="246.44" stroke="#888" stroke-width="0.9"/>
<text x="329.35" y="342" font-size="7.6" font-family="'Liberation Serif', serif" text-anchor="end" fill="#000" transform="rotate(-45 329.35 342)">WT</text>
<rect x="341.4" y="248.06" width="4.13" height="83.74" fill="#fff" stroke="#a0a0a0" stroke-width="0.6"/>
<line x1="343.46" y1="234.65" x2="343.46" y2="248.06" stroke="#999" stroke-width="0.7"/>
<line x1="342.36" y1="234.65" x2="344.56" y2="234.65" stroke="#888" stroke-width="0.9"/>
<rect x="345.52" y="253.35" width="4.13" height="78.45" fill="#d6d6d6" stroke="#a0a0a0" stroke-width="0.6"/>
<line x1="347.59" y1="250.74" x2="347.59" y2="253.35" stroke="#999" stroke-width="0.7"/>
<line x1="346.49" y1="250.74" x2="348.69" y2="250.74" stroke="#888" stroke-width="0.9"/>
<rect x="349.65" y="282.04" width="4.13" height="49.76" fill="#000" stroke="none" stroke-width="0"/>
<line x1="351.71" y1="270.34" x2="351.71" y2="282.04" stroke="#999" stroke-width="0.7"/>
<line x1="350.61" y1="270.34" x2="352.81" y2="270.34" stroke="#888" stroke-width="0.9"/>
<rect x="353.78" y="280.58" width="4.13" height="51.22" fill="#fff" stroke="#555" stroke-width="0.6"/>
<path d="M353.78 273.28L357.9 280.28M353.78 281.58L357.9 288.58M353.78 289.88L357.9 296.88M353.78 298.18L357.9 305.18M353.78 306.48L357.9 313.48M353.78 314.78L357.9 321.78M353.78 323.08L357.9 330.08M353.78 331.38L357.9 338.38" stroke="#333" stroke-width="0.65" fill="none" clip-path="url(#h1)"/>
<line x1="355.84" y1="278.39" x2="355.84" y2="280.58" stroke="#999" stroke-width="0.7"/>
<line x1="354.74" y1="278.39" x2="356.94" y2="278.39" stroke="#888" stroke-width="0.9"/>
<text x="352.05" y="342" font-size="7.6" font-family="'Liberation Serif', serif" text-anchor="end" fill="#000" transform="rotate(-45 352.05 342)">Glu272Ala</text>
<rect x="364.1" y="243.26" width="4.13" height="88.54" fill="#fff" stroke="#a0a0a0" stroke-width="0.6"/>
<line x1="366.16" y1="238.79" x2="366.16" y2="243.26" stroke="#999" stroke-width="0.7"/>
<line x1="365.06" y1="238.79" x2="367.26" y2="238.79" stroke="#888" stroke-width="0.9"/>
<rect x="368.22" y="256.52" width="4.13" height="75.28" fill="#d6d6d6" stroke="#a0a0a0" stroke-width="0.6"/>
<line x1="370.29" y1="253.35" x2="370.29" y2="256.52" stroke="#999" stroke-width="0.7"/>
<line x1="369.19" y1="253.35" x2="371.39" y2="253.35" stroke="#888" stroke-width="0.9"/>
<rect x="372.35" y="254.4" width="4.13" height="77.4" fill="#000" stroke="none" stroke-width="0"/>
<line x1="374.41" y1="219.28" x2="374.41" y2="254.4" stroke="#999" stroke-width="0.7"/>
<line x1="373.31" y1="219.28" x2="375.51" y2="219.28" stroke="#888" stroke-width="0.9"/>
<rect x="376.48" y="254.4" width="4.13" height="77.4" fill="#fff" stroke="#555" stroke-width="0.6"/>
<path d="M376.48 247.1L380.6 254.1M376.48 255.4L380.6 262.4M376.48 263.7L380.6 270.7M376.48 272L380.6 279M376.48 280.3L380.6 287.3M376.48 288.6L380.6 295.6M376.48 296.9L380.6 303.9M376.48 305.2L380.6 312.2M376.48 313.5L380.6 320.5M376.48 321.8L380.6 328.8M376.48 330.1L380.6 337.1" stroke="#333" stroke-width="0.65" fill="none" clip-path="url(#h2)"/>
<line x1="378.54" y1="228.22" x2="378.54" y2="254.4" stroke="#999" stroke-width="0.7"/>
<line x1="377.44" y1="228.22" x2="379.64" y2="228.22" stroke="#888" stroke-width="0.9"/>
<text x="374.75" y="342" font-size="7.6" font-family="'Liberation Serif', serif" text-anchor="end" fill="#000" transform="rotate(-45 374.75 342)">Glu272Val</text>
<rect x="386.8" y="248.71" width="4.13" height="83.09" fill="#fff" stroke="#a0a0a0" stroke-width="0.6"/>
<line x1="388.86" y1="230.01" x2="388.86" y2="248.71" stroke="#999" stroke-width="0.7"/>
<line x1="387.76" y1="230.01" x2="389.96" y2="230.01" stroke="#888" stroke-width="0.9"/>
<rect x="390.92" y="242.7" width="4.13" height="89.1" fill="#d6d6d6" stroke="#a0a0a0" stroke-width="0.6"/>
<line x1="392.99" y1="240.99" x2="392.99" y2="242.7" stroke="#999" stroke-width="0.7"/>
<line x1="391.89" y1="240.99" x2="394.09" y2="240.99" stroke="#888" stroke-width="0.9"/>
<rect x="395.05" y="255.3" width="4.13" height="76.5" fill="#000" stroke="none" stroke-width="0"/>
<line x1="397.11" y1="253.59" x2="397.11" y2="255.3" stroke="#999" stroke-width="0.7"/>
<line x1="396.01" y1="253.59" x2="398.21" y2="253.59" stroke="#888" stroke-width="0.9"/>
<rect x="399.18" y="244.73" width="4.13" height="87.07" fill="#fff" stroke="#555" stroke-width="0.6"/>
<path d="M399.18 237.43L403.3 244.43M399.18 245.73L403.3 252.73M399.18 254.03L403.3 261.03M399.18 262.33L403.3 269.33M399.18 270.63L403.3 277.63M399.18 278.93L403.3 285.93M399.18 287.23L403.3 294.23M399.18 295.53L403.3 302.53M399.18 303.83L403.3 310.83M399.18 312.13L403.3 319.13M399.18 320.43L403.3 327.43M399.18 328.73L403.3 335.73" stroke="#333" stroke-width="0.65" fill="none" clip-path="url(#h3)"/>
<line x1="401.24" y1="239.04" x2="401.24" y2="244.73" stroke="#999" stroke-width="0.7"/>
<line x1="400.14" y1="239.04" x2="402.34" y2="239.04" stroke="#888" stroke-width="0.9"/>
<text x="397.45" y="342" font-size="7.6" font-family="'Liberation Serif', serif" text-anchor="end" fill="#000" transform="rotate(-45 397.45 342)">Asp519Ala</text>
<rect x="409.5" y="254.32" width="4.13" height="77.48" fill="#fff" stroke="#a0a0a0" stroke-width="0.6"/>
<line x1="411.56" y1="247.9" x2="411.56" y2="254.32" stroke="#999" stroke-width="0.7"/>
<line x1="410.46" y1="247.9" x2="412.66" y2="247.9" stroke="#888" stroke-width="0.9"/>
<rect x="413.62" y="243.59" width="4.13" height="88.21" fill="#d6d6d6" stroke="#a0a0a0" stroke-width="0.6"/>
<line x1="415.69" y1="242.37" x2="415.69" y2="243.59" stroke="#999" stroke-width="0.7"/>
<line x1="414.59" y1="242.37" x2="416.79" y2="242.37" stroke="#888" stroke-width="0.9"/>
<rect x="417.75" y="263.83" width="4.13" height="67.97" fill="#000" stroke="none" stroke-width="0"/>
<line x1="419.81" y1="261.64" x2="419.81" y2="263.83" stroke="#999" stroke-width="0.7"/>
<line x1="418.71" y1="261.64" x2="420.91" y2="261.64" stroke="#888" stroke-width="0.9"/>
<rect x="421.88" y="252.7" width="4.13" height="79.1" fill="#fff" stroke="#555" stroke-width="0.6"/>
<path d="M421.88 245.4L426 252.4M421.88 253.7L426 260.7M421.88 262L426 269M421.88 270.3L426 277.3M421.88 278.6L426 285.6M421.88 286.9L426 293.9M421.88 295.2L426 302.2M421.88 303.5L426 310.5M421.88 311.8L426 318.8M421.88 320.1L426 327.1M421.88 328.4L426 335.4" stroke="#333" stroke-width="0.65" fill="none" clip-path="url(#h4)"/>
<line x1="423.94" y1="251.31" x2="423.94" y2="252.7" stroke="#999" stroke-width="0.7"/>
<line x1="422.84" y1="251.31" x2="425.04" y2="251.31" stroke="#888" stroke-width="0.9"/>
<text x="420.15" y="342" font-size="7.6" font-family="'Liberation Serif', serif" text-anchor="end" fill="#000" transform="rotate(-45 420.15 342)">Asp519Val</text>
<rect x="432.2" y="250.91" width="4.13" height="80.89" fill="#fff" stroke="#a0a0a0" stroke-width="0.6"/>
<line x1="434.26" y1="243.18" x2="434.26" y2="250.91" stroke="#999" stroke-width="0.7"/>
<line x1="433.16" y1="243.18" x2="435.36" y2="243.18" stroke="#888" stroke-width="0.9"/>
<rect x="436.32" y="244.32" width="4.13" height="87.48" fill="#d6d6d6" stroke="#a0a0a0" stroke-width="0.6"/>
<line x1="438.39" y1="236.27" x2="438.39" y2="244.32" stroke="#999" stroke-width="0.7"/>
<line x1="437.29" y1="236.27" x2="439.49" y2="236.27" stroke="#888" stroke-width="0.9"/>
<rect x="440.45" y="254.89" width="4.13" height="76.91" fill="#000" stroke="none" stroke-width="0"/>
<line x1="442.51" y1="243.59" x2="442.51" y2="254.89" stroke="#999" stroke-width="0.7"/>
<line x1="441.41" y1="243.59" x2="443.61" y2="243.59" stroke="#888" stroke-width="0.9"/>
<rect x="444.58" y="246.6" width="4.13" height="85.2" fill="#fff" stroke="#555" stroke-width="0.6"/>
<path d="M444.58 239.3L448.7 246.3M444.58 247.6L448.7 254.6M444.58 255.9L448.7 262.9M444.58 264.2L448.7 271.2M444.58 272.5L448.7 279.5M444.58 280.8L448.7 287.8M444.58 289.1L448.7 296.1M444.58 297.4L448.7 304.4M444.58 305.7L448.7 312.7M444.58 314L448.7 321M444.58 322.3L448.7 329.3M444.58 330.6L448.7 337.6" stroke="#333" stroke-width="0.65" fill="none" clip-path="url(#h5)"/>
<line x1="446.64" y1="233.59" x2="446.64" y2="246.6" stroke="#999" stroke-width="0.7"/>
<line x1="445.54" y1="233.59" x2="447.74" y2="233.59" stroke="#888" stroke-width="0.9"/>
<text x="442.85" y="342" font-size="7.6" font-family="'Liberation Serif', serif" text-anchor="end" fill="#000" transform="rotate(-45 442.85 342)">Glu665Ala</text>
<rect x="454.9" y="253.59" width="4.13" height="78.21" fill="#fff" stroke="#a0a0a0" stroke-width="0.6"/>
<line x1="456.96" y1="249.28" x2="456.96" y2="253.59" stroke="#999" stroke-width="0.7"/>
<line x1="455.86" y1="249.28" x2="458.06" y2="249.28" stroke="#888" stroke-width="0.9"/>
<rect x="459.02" y="248.22" width="4.13" height="83.58" fill="#d6d6d6" stroke="#a0a0a0" stroke-width="0.6"/>
<line x1="461.09" y1="240.01" x2="461.09" y2="248.22" stroke="#999" stroke-width="0.7"/>
<line x1="459.99" y1="240.01" x2="462.19" y2="240.01" stroke="#888" stroke-width="0.9"/>
<rect x="463.15" y="253.59" width="4.13" height="78.21" fill="#000" stroke="none" stroke-width="0"/>
<line x1="465.21" y1="233.59" x2="465.21" y2="253.59" stroke="#999" stroke-width="0.7"/>
<line x1="464.11" y1="233.59" x2="466.31" y2="233.59" stroke="#888" stroke-width="0.9"/>
<rect x="467.28" y="246.27" width="4.13" height="85.53" fill="#fff" stroke="#555" stroke-width="0.6"/>
<path d="M467.28 238.97L471.4 245.97M467.28 247.27L471.4 254.27M467.28 255.57L471.4 262.57M467.28 263.87L471.4 270.87M467.28 272.17L471.4 279.17M467.28 280.47L471.4 287.47M467.28 288.77L471.4 295.77M467.28 297.07L471.4 304.07M467.28 305.37L471.4 312.37M467.28 313.67L471.4 320.67M467.28 321.97L471.4 328.97M467.28 330.27L471.4 337.27" stroke="#333" stroke-width="0.65" fill="none" clip-path="url(#h6)"/>
<line x1="469.34" y1="223.67" x2="469.34" y2="246.27" stroke="#999" stroke-width="0.7"/>
<line x1="468.24" y1="223.67" x2="470.44" y2="223.67" stroke="#888" stroke-width="0.9"/>
<text x="465.55" y="342" font-size="7.6" font-family="'Liberation Serif', serif" text-anchor="end" fill="#000" transform="rotate(-45 465.55 342)">Glu665Val</text>
<rect x="477.6" y="251.64" width="4.13" height="80.16" fill="#fff" stroke="#a0a0a0" stroke-width="0.6"/>
<line x1="479.66" y1="236.27" x2="479.66" y2="251.64" stroke="#999" stroke-width="0.7"/>
<line x1="478.56" y1="236.27" x2="480.76" y2="236.27" stroke="#888" stroke-width="0.9"/>
<rect x="481.72" y="248.22" width="4.13" height="83.58" fill="#d6d6d6" stroke="#a0a0a0" stroke-width="0.6"/>
<line x1="483.79" y1="246.27" x2="483.79" y2="248.22" stroke="#999" stroke-width="0.7"/>
<line x1="482.69" y1="246.27" x2="484.89" y2="246.27" stroke="#888" stroke-width="0.9"/>
<rect x="485.85" y="249.77" width="4.13" height="82.03" fill="#000" stroke="none" stroke-width="0"/>
<line x1="487.91" y1="228.31" x2="487.91" y2="249.77" stroke="#999" stroke-width="0.7"/>
<line x1="486.81" y1="228.31" x2="489.01" y2="228.31" stroke="#888" stroke-width="0.9"/>
<rect x="489.98" y="241.56" width="4.13" height="90.24" fill="#fff" stroke="#555" stroke-width="0.6"/>
<path d="M489.98 234.26L494.1 241.26M489.98 242.56L494.1 249.56M489.98 250.86L494.1 257.86M489.98 259.16L494.1 266.16M489.98 267.46L494.1 274.46M489.98 275.76L494.1 282.76M489.98 284.06L494.1 291.06M489.98 292.36L494.1 299.36M489.98 300.66L494.1 307.66M489.98 308.96L494.1 315.96M489.98 317.26L494.1 324.26M489.98 325.56L494.1 332.56" stroke="#333" stroke-width="0.65" fill="none" clip-path="url(#h7)"/>
<line x1="492.04" y1="224.97" x2="492.04" y2="241.56" stroke="#999" stroke-width="0.7"/>
<line x1="490.94" y1="224.97" x2="493.14" y2="224.97" stroke="#888" stroke-width="0.9"/>
<text x="488.25" y="342" font-size="7.6" font-family="'Liberation Serif', serif" text-anchor="end" fill="#000" transform="rotate(-45 488.25 342)">Glu1984Ala</text>
<rect x="500.3" y="254.32" width="4.13" height="77.48" fill="#fff" stroke="#a0a0a0" stroke-width="0.6"/>
<line x1="502.36" y1="222.13" x2="502.36" y2="254.32" stroke="#999" stroke-width="0.7"/>
<line x1="501.26" y1="222.13" x2="503.46" y2="222.13" stroke="#888" stroke-width="0.9"/>
<rect x="504.42" y="244.48" width="4.13" height="87.32" fill="#d6d6d6" stroke="#a0a0a0" stroke-width="0.6"/>
<line x1="506.49" y1="239.12" x2="506.49" y2="244.48" stroke="#999" stroke-width="0.7"/>
<line x1="505.39" y1="239.12" x2="507.59" y2="239.12" stroke="#888" stroke-width="0.9"/>
<rect x="508.55" y="256.19" width="4.13" height="75.61" fill="#000" stroke="none" stroke-width="0"/>
<line x1="510.61" y1="253.75" x2="510.61" y2="256.19" stroke="#999" stroke-width="0.7"/>
<line x1="509.51" y1="253.75" x2="511.71" y2="253.75" stroke="#888" stroke-width="0.9"/>
<rect x="512.68" y="245.46" width="4.13" height="86.34" fill="#fff" stroke="#555" stroke-width="0.6"/>
<path d="M512.68 238.16L516.8 245.16M512.68 246.46L516.8 253.46M512.68 254.76L516.8 261.76M512.68 263.06L516.8 270.06M512.68 271.36L516.8 278.36M512.68 279.66L516.8 286.66M512.68 287.96L516.8 294.96M512.68 296.26L516.8 303.26M512.68 304.56L516.8 311.56M512.68 312.86L516.8 319.86M512.68 321.16L516.8 328.16M512.68 329.46L516.8 336.46" stroke="#333" stroke-width="0.65" fill="none" clip-path="url(#h8)"/>
<line x1="514.74" y1="239.69" x2="514.74" y2="245.46" stroke="#999" stroke-width="0.7"/>
<line x1="513.64" y1="239.69" x2="515.84" y2="239.69" stroke="#888" stroke-width="0.9"/>
<text x="510.95" y="342" font-size="7.6" font-family="'Liberation Serif', serif" text-anchor="end" fill="#000" transform="rotate(-45 510.95 342)">Glu1984Val</text>
<line x1="315.6" y1="217.5" x2="315.6" y2="331.8" stroke="#999" stroke-width="1.2"/>
<line x1="315.6" y1="331.8" x2="520" y2="331.8" stroke="#999" stroke-width="1.2"/>
<text x="306.5" y="334.4" font-size="9.3" font-family="'Liberation Serif', serif" text-anchor="end" fill="#000">0</text>
<text x="306.5" y="318.14" font-size="9.3" font-family="'Liberation Serif', serif" text-anchor="end" fill="#000">20</text>
<text x="306.5" y="301.88" font-size="9.3" font-family="'Liberation Serif', serif" text-anchor="end" fill="#000">40</text>
<text x="306.5" y="285.62" font-size="9.3" font-family="'Liberation Serif', serif" text-anchor="end" fill="#000">60</text>
<text x="306.5" y="269.36" font-size="9.3" font-family="'Liberation Serif', serif" text-anchor="end" fill="#000">80</text>
<text x="306.5" y="253.1" font-size="9.3" font-family="'Liberation Serif', serif" text-anchor="end" fill="#000">100</text>
<text x="306.5" y="236.84" font-size="9.3" font-family="'Liberation Serif', serif" text-anchor="end" fill="#000">120</text>
<text x="306.5" y="220.58" font-size="9.3" font-family="'Liberation Serif', serif" text-anchor="end" fill="#000">140</text>
<text x="275.2" y="283" font-size="7.46" font-family="'Liberation Serif', serif" text-anchor="middle" fill="#000" transform="rotate(-90 275.2 283)">Thrombin Generation Parameter</text>
<text x="283.5" y="282.7" font-size="7.58" font-family="'Liberation Serif', serif" text-anchor="middle" fill="#000" transform="rotate(-90 283.5 282.7)">Values Relative to WT (%)</text></svg></body></html>
